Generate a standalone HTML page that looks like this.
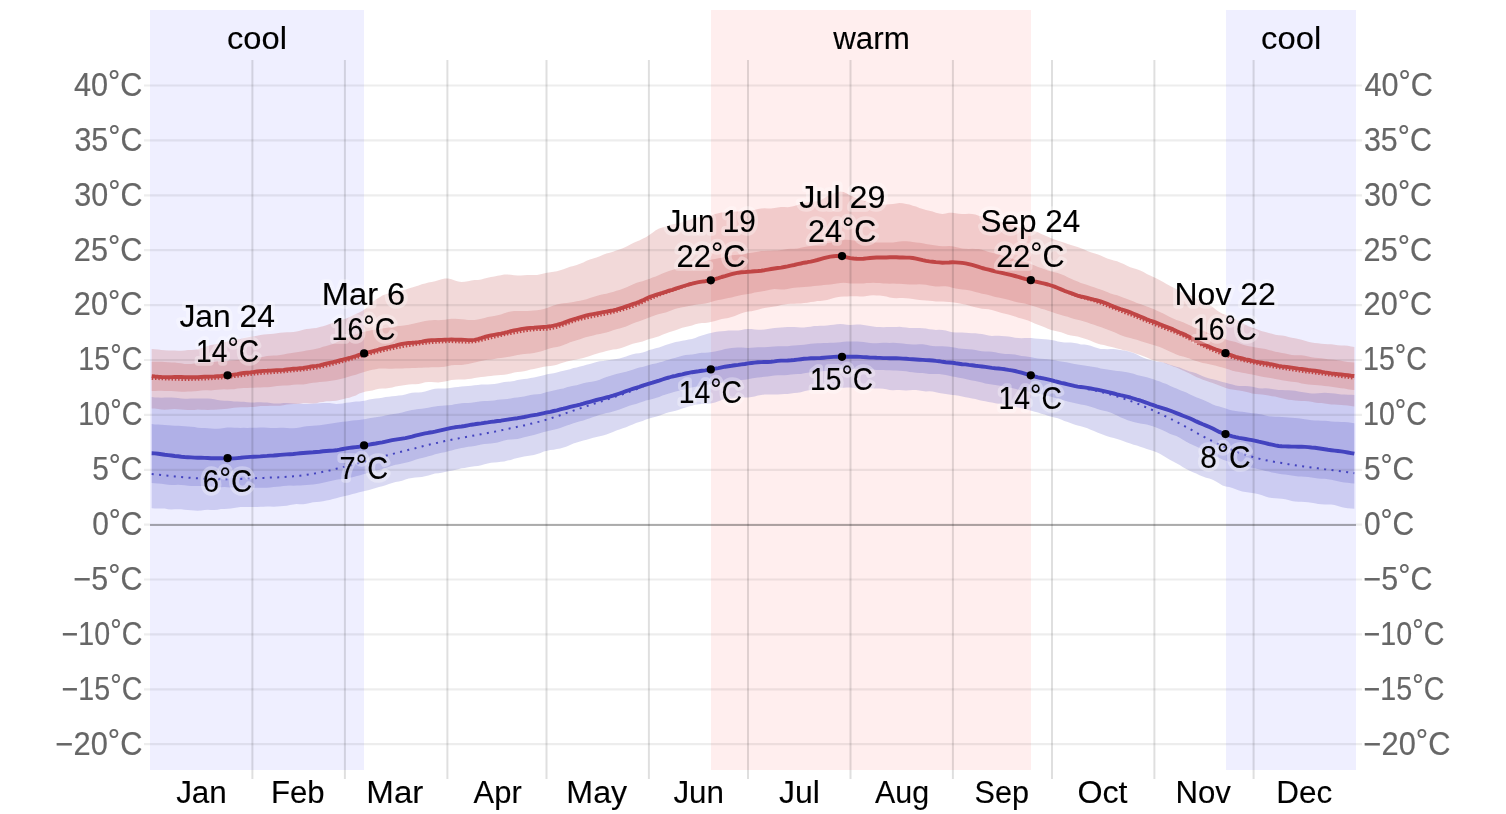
<!DOCTYPE html>
<html lang="en"><head><meta charset="utf-8"><title>Average High and Low Temperature</title>
<style>
html,body{margin:0;padding:0;background:#fff;}
body{width:1506px;height:814px;overflow:hidden;position:relative;font-family:"Liberation Sans",sans-serif;}
svg{will-change:transform;}
svg text{font-family:"Liberation Sans",sans-serif;}
.ax{fill:#666;stroke:#666;stroke-width:0.2px;}
.mo{fill:#000;stroke:#000;stroke-width:0.12px;}
.an{fill:#000;stroke:#000;stroke-width:0.12px;}
.halo{fill:#fff;fill-opacity:0.3;stroke:#fff;stroke-opacity:0.32;stroke-width:7.5px;stroke-linejoin:round;}
</style></head><body>
<svg width="1506" height="814" viewBox="0 0 1506 814" style="position:absolute;left:0;top:0">
<rect x="150" y="10" width="214" height="760" fill="#efefff"/>
<rect x="1226" y="10" width="130" height="760" fill="#efefff"/>
<rect x="711" y="10" width="320" height="760" fill="#ffeeee"/>
<path d="M151.7,349 L154.9,349.3 L158.2,349.5 L161.5,350 L164.8,350.2 L168.1,350.4 L171.4,350.4 L174.7,350.6 L178,350.8 L181.3,350.7 L184.6,350.4 L187.9,350.1 L191.2,350 L194.5,349.7 L197.8,349.2 L201.1,348.3 L204.4,347.2 L207.7,346 L211,345 L214.3,344.4 L217.6,343.8 L220.8,343.2 L224.1,342.2 L227.4,341.6 L230.7,340.8 L234,340.1 L237.3,339.3 L240.6,338.9 L243.9,338.1 L247.2,337.6 L250.5,336.8 L253.8,336.4 L257.1,335.7 L260.4,335 L263.7,334.5 L267,334.2 L270.3,334.1 L273.6,333.7 L276.9,333.2 L280.2,332.7 L283.5,332.5 L286.7,332.3 L290,332.2 L293.3,331.9 L296.6,331.5 L299.9,330.8 L303.2,329.8 L306.5,329 L309.8,328.7 L313.1,328.3 L316.4,328 L319.7,327.1 L323,326.3 L326.3,325.2 L329.6,324 L332.9,322.8 L336.2,321.7 L339.5,320.6 L342.8,319.5 L346.1,318.4 L349.4,317.2 L352.6,315.5 L355.9,313.9 L359.2,312.4 L362.5,310.7 L365.8,308.4 L369.1,305.1 L372.4,302.2 L375.7,299.6 L379,297.7 L382.3,295.6 L385.6,294.2 L388.9,293.3 L392.2,292.7 L395.5,292.2 L398.8,291.3 L402.1,290.5 L405.4,289.6 L408.7,288.6 L412,287.6 L415.3,286.5 L418.6,285.6 L421.8,284.3 L425.1,283.4 L428.4,282.6 L431.7,281.9 L435,281.2 L438.3,280.3 L441.6,279.3 L444.9,278.5 L448.2,278.5 L451.5,279.3 L454.8,280.5 L458.1,281.4 L461.4,281.9 L464.7,281.8 L468,281.2 L471.3,280.5 L474.6,280.1 L477.9,279.9 L481.2,279.4 L484.5,278.5 L487.7,277.8 L491,276.9 L494.3,276.4 L497.6,275.8 L500.9,275.2 L504.2,274.6 L507.5,274.5 L510.8,274.8 L514.1,275.2 L517.4,275.4 L520.7,275.4 L524,275.3 L527.3,275 L530.6,275 L533.9,275.1 L537.2,274.9 L540.5,274.3 L543.8,273.4 L547.1,272.8 L550.4,272.3 L553.6,271.8 L556.9,271.2 L560.2,270.3 L563.5,269.2 L566.8,267.9 L570.1,266.8 L573.4,266 L576.7,265.1 L580,263.8 L583.3,262.4 L586.6,260.7 L589.9,259.5 L593.2,258.6 L596.5,257.6 L599.8,256.2 L603.1,254.7 L606.4,253.5 L609.7,252.7 L613,251.7 L616.3,250.6 L619.5,249.4 L622.8,248.3 L626.1,246.8 L629.4,245 L632.7,243.3 L636,241.7 L639.3,240.4 L642.6,238.8 L645.9,237.2 L649.2,235.1 L652.5,232.8 L655.8,230.3 L659.1,228.5 L662.4,227.4 L665.7,226.4 L669,225.3 L672.3,224.3 L675.6,223.7 L678.9,223 L682.2,222.3 L685.5,221.2 L688.7,220 L692,218.8 L695.3,217.8 L698.6,217 L701.9,216.4 L705.2,216.2 L708.5,215.9 L711.8,215.2 L715.1,214.1 L718.4,213.2 L721.7,212.5 L725,212.3 L728.3,212 L731.6,211.9 L734.9,211.5 L738.2,211.4 L741.5,211 L744.8,210.9 L748.1,210.7 L751.4,210.5 L754.6,210 L757.9,209.1 L761.2,208.4 L764.5,208.3 L767.8,208.6 L771.1,208.4 L774.4,208 L777.7,207.4 L781,207.1 L784.3,207 L787.6,207.2 L790.9,206.8 L794.2,206 L797.5,204.9 L800.8,204 L804.1,203.3 L807.4,202.5 L810.7,201.8 L814,201.4 L817.3,201.2 L820.5,200.3 L823.8,198.5 L827.1,196.3 L830.4,194.6 L833.7,193.4 L837,192.3 L840.3,191.4 L843.6,191.9 L846.9,193.5 L850.2,195.5 L853.5,196.9 L856.8,198.2 L860.1,199.4 L863.4,200.6 L866.7,201.8 L870,203.1 L873.3,203.9 L876.6,204.6 L879.9,204.8 L883.2,204.8 L886.5,204.4 L889.7,204.3 L893,204 L896.3,203.5 L899.6,203.1 L902.9,203.2 L906.2,203.9 L909.5,204.6 L912.8,205.7 L916.1,206.6 L919.4,208 L922.7,209.1 L926,210 L929.3,210.7 L932.6,211.5 L935.9,212.7 L939.2,213.6 L942.5,214 L945.8,213.4 L949.1,212.8 L952.4,212.7 L955.6,213.2 L958.9,213.8 L962.2,214.1 L965.5,214 L968.8,213.8 L972.1,213.9 L975.4,214.6 L978.7,215.7 L982,216.5 L985.3,217.3 L988.6,218.3 L991.9,219.5 L995.2,220.6 L998.5,221.5 L1001.8,222.1 L1005.1,222.9 L1008.4,223.8 L1011.7,224.8 L1015,225.8 L1018.3,226.8 L1021.5,228 L1024.8,228.9 L1028.1,229.6 L1031.4,230.1 L1034.7,231.2 L1038,232.3 L1041.3,233.9 L1044.6,235.3 L1047.9,236.8 L1051.2,238.2 L1054.5,239.6 L1057.8,240.8 L1061.1,241.8 L1064.4,242.8 L1067.7,243.9 L1071,245 L1074.3,246.1 L1077.6,247.1 L1080.9,248.2 L1084.2,249.6 L1087.4,251.1 L1090.7,252.3 L1094,253.3 L1097.3,254.2 L1100.6,255.6 L1103.9,257.1 L1107.2,258.5 L1110.5,259.4 L1113.8,260.4 L1117.1,261.3 L1120.4,262.8 L1123.7,264.1 L1127,265.8 L1130.3,267.2 L1133.6,268.3 L1136.9,269.2 L1140.2,270.5 L1143.5,272 L1146.8,273.9 L1150.1,275.5 L1153.4,277.1 L1156.6,278.5 L1159.9,280.2 L1163.2,282 L1166.5,284 L1169.8,285.8 L1173.1,287.4 L1176.4,289.1 L1179.7,291 L1183,292.7 L1186.3,294 L1189.6,295.1 L1192.9,296.5 L1196.2,298.3 L1199.5,300.2 L1202.8,301.8 L1206.1,303.3 L1209.4,304.9 L1212.7,307.1 L1216,309.7 L1219.3,311.9 L1222.5,313.7 L1225.8,314.7 L1229.1,316.1 L1232.4,317.5 L1235.7,319.4 L1239,321 L1242.3,322.9 L1245.6,324.8 L1248.9,326.5 L1252.2,327.6 L1255.5,328.8 L1258.8,330.1 L1262.1,331.3 L1265.4,332.1 L1268.7,332.9 L1272,333.8 L1275.3,334.7 L1278.6,335.2 L1281.9,335.5 L1285.2,336 L1288.4,336.9 L1291.7,337.7 L1295,338.2 L1298.3,338.9 L1301.6,339.8 L1304.9,340.8 L1308.2,341.8 L1311.5,342.4 L1314.8,343 L1318.1,343.3 L1321.4,343.8 L1324.7,344 L1328,344.2 L1331.3,344.2 L1334.6,344.8 L1337.9,345.2 L1341.2,345.6 L1344.5,345.5 L1347.8,345.8 L1351.1,346.4 L1354.3,347.1 L1354.3,406.5 L1351.1,406.1 L1347.8,405.5 L1344.5,405.2 L1341.2,405 L1337.9,404.8 L1334.6,404.6 L1331.3,404.4 L1328,404 L1324.7,403.4 L1321.4,403.1 L1318.1,402.9 L1314.8,402.4 L1311.5,401.7 L1308.2,401.3 L1304.9,401.1 L1301.6,401 L1298.3,400.7 L1295,400.4 L1291.7,400 L1288.4,399.7 L1285.2,399.1 L1281.9,398.3 L1278.6,397.4 L1275.3,396.6 L1272,396.2 L1268.7,395.5 L1265.4,395.1 L1262.1,394.5 L1258.8,394.3 L1255.5,394 L1252.2,393.4 L1248.9,392.5 L1245.6,391.7 L1242.3,391.1 L1239,390.6 L1235.7,390.1 L1232.4,389.6 L1229.1,388.9 L1225.8,387.9 L1222.5,386.7 L1219.3,385.4 L1216,384.2 L1212.7,383 L1209.4,382 L1206.1,380.8 L1202.8,379.7 L1199.5,378.3 L1196.2,376.9 L1192.9,375.3 L1189.6,373.6 L1186.3,372.1 L1183,370.4 L1179.7,369.1 L1176.4,367.5 L1173.1,366.5 L1169.8,365 L1166.5,363.9 L1163.2,362.5 L1159.9,361.8 L1156.6,361 L1153.4,360.2 L1150.1,358.9 L1146.8,357.4 L1143.5,356.2 L1140.2,355 L1136.9,353.9 L1133.6,352.7 L1130.3,351.8 L1127,350.8 L1123.7,350.3 L1120.4,349.3 L1117.1,348.6 L1113.8,347.5 L1110.5,346.7 L1107.2,345.9 L1103.9,345.1 L1100.6,344.5 L1097.3,343.4 L1094,342.3 L1090.7,340.8 L1087.4,339.5 L1084.2,338.4 L1080.9,337.4 L1077.6,336.6 L1074.3,335.9 L1071,335.5 L1067.7,334.7 L1064.4,333.6 L1061.1,332.3 L1057.8,331.4 L1054.5,330.8 L1051.2,330 L1047.9,328.8 L1044.6,327.3 L1041.3,325.9 L1038,324.7 L1034.7,323.5 L1031.4,322 L1028.1,320.6 L1024.8,319.4 L1021.5,318.6 L1018.3,317.7 L1015,316.5 L1011.7,315.6 L1008.4,314.6 L1005.1,313.8 L1001.8,313 L998.5,312.1 L995.2,311 L991.9,309.9 L988.6,309.2 L985.3,309 L982,308.8 L978.7,308.1 L975.4,307.3 L972.1,306.4 L968.8,305.6 L965.5,304.6 L962.2,303.9 L958.9,303.2 L955.6,302.8 L952.4,302.3 L949.1,302 L945.8,301.7 L942.5,301.6 L939.2,301.6 L935.9,301.4 L932.6,301.1 L929.3,300.7 L926,300.5 L922.7,300.3 L919.4,300 L916.1,299.5 L912.8,299 L909.5,298.6 L906.2,298.3 L902.9,298.1 L899.6,298.1 L896.3,298.2 L893,298 L889.7,297.4 L886.5,296.5 L883.2,295.9 L879.9,295.5 L876.6,295.5 L873.3,295.3 L870,295.5 L866.7,295.9 L863.4,296.4 L860.1,296.5 L856.8,296.2 L853.5,296.2 L850.2,296.2 L846.9,296.5 L843.6,296.5 L840.3,296.8 L837,297.3 L833.7,298.1 L830.4,299 L827.1,300 L823.8,300.5 L820.5,300.9 L817.3,301.1 L814,301.8 L810.7,302.1 L807.4,302.8 L804.1,303 L800.8,303.5 L797.5,303.5 L794.2,303.8 L790.9,303.7 L787.6,304 L784.3,304.5 L781,305.1 L777.7,305.9 L774.4,306.4 L771.1,307 L767.8,307.4 L764.5,307.9 L761.2,308.8 L757.9,309.7 L754.6,310.6 L751.4,311.2 L748.1,311.5 L744.8,312.2 L741.5,313.2 L738.2,314.6 L734.9,315.9 L731.6,317.1 L728.3,317.9 L725,318.5 L721.7,319.1 L718.4,319.9 L715.1,320.9 L711.8,321.8 L708.5,322.4 L705.2,322.9 L701.9,323.1 L698.6,323.6 L695.3,324.3 L692,325.4 L688.7,326.2 L685.5,327 L682.2,327.8 L678.9,328.9 L675.6,330.2 L672.3,331.2 L669,332.3 L665.7,333.5 L662.4,334.8 L659.1,336.2 L655.8,337.2 L652.5,338.2 L649.2,339.1 L645.9,340.3 L642.6,341.4 L639.3,342.3 L636,343.1 L632.7,343.8 L629.4,344.9 L626.1,346.2 L622.8,347.6 L619.5,348.5 L616.3,349.2 L613,349.6 L609.7,350.3 L606.4,351 L603.1,351.9 L599.8,352.8 L596.5,353.7 L593.2,354.7 L589.9,355.9 L586.6,356.9 L583.3,358.1 L580,358.7 L576.7,359.6 L573.4,360.1 L570.1,360.8 L566.8,361.5 L563.5,362.5 L560.2,363.6 L556.9,364.7 L553.6,365.5 L550.4,365.9 L547.1,366.3 L543.8,366.8 L540.5,367.6 L537.2,368.3 L533.9,369.1 L530.6,369.6 L527.3,370.5 L524,371.3 L520.7,371.8 L517.4,372.1 L514.1,372.5 L510.8,373.4 L507.5,374.2 L504.2,374.7 L500.9,375 L497.6,375.2 L494.3,375.5 L491,375.9 L487.7,376.3 L484.5,376.7 L481.2,377 L477.9,377.5 L474.6,378 L471.3,378.7 L468,379 L464.7,379.4 L461.4,379.5 L458.1,379.6 L454.8,379.8 L451.5,380.1 L448.2,380.7 L444.9,381.4 L441.6,382 L438.3,382.4 L435,382.3 L431.7,382.1 L428.4,381.9 L425.1,382.3 L421.8,383.2 L418.6,383.9 L415.3,384.2 L412,384.3 L408.7,384.6 L405.4,385 L402.1,385.4 L398.8,386 L395.5,386.6 L392.2,387.5 L388.9,388.1 L385.6,388.4 L382.3,388.4 L379,388.8 L375.7,389.6 L372.4,390.5 L369.1,391 L365.8,391.4 L362.5,392.4 L359.2,393.6 L355.9,395.4 L352.6,396.5 L349.4,397.7 L346.1,398.3 L342.8,399.3 L339.5,400 L336.2,400.8 L332.9,400.9 L329.6,401.3 L326.3,401.3 L323,401.9 L319.7,402.3 L316.4,403.2 L313.1,403.5 L309.8,403.4 L306.5,403.2 L303.2,403.3 L299.9,403.8 L296.6,404.1 L293.3,404.1 L290,404.2 L286.7,404.5 L283.5,405.2 L280.2,405.7 L276.9,405.7 L273.6,405.8 L270.3,405.7 L267,405.9 L263.7,405.9 L260.4,406.1 L257.1,406.5 L253.8,406.9 L250.5,407.1 L247.2,407.2 L243.9,407.3 L240.6,407.3 L237.3,407.5 L234,407.8 L230.7,408.3 L227.4,408.7 L224.1,409 L220.8,409.3 L217.6,409.5 L214.3,409.7 L211,409.7 L207.7,409.9 L204.4,409.7 L201.1,409.7 L197.8,409.6 L194.5,409.9 L191.2,410 L187.9,410 L184.6,409.8 L181.3,409.6 L178,409.2 L174.7,409 L171.4,409.2 L168.1,409.6 L164.8,409.7 L161.5,409.5 L158.2,409 L154.9,408.6 L151.7,408.6Z" fill="#c04040" fill-opacity="0.2"/>
<path d="M151.7,361.8 L154.9,361.8 L158.2,361.8 L161.5,361.8 L164.8,362.1 L168.1,362.3 L171.4,362.5 L174.7,362.6 L178,362.9 L181.3,363.3 L184.6,363.9 L187.9,364 L191.2,363.9 L194.5,363.4 L197.8,363.1 L201.1,362.9 L204.4,362.8 L207.7,362.6 L211,362.3 L214.3,361.9 L217.6,361.5 L220.8,361.2 L224.1,361.1 L227.4,360.9 L230.7,360.6 L234,360.3 L237.3,360 L240.6,359.6 L243.9,358.8 L247.2,358.2 L250.5,357.8 L253.8,357.7 L257.1,357.5 L260.4,357.3 L263.7,356.7 L267,356 L270.3,355.7 L273.6,355.6 L276.9,355.4 L280.2,354.9 L283.5,354.4 L286.7,353.7 L290,353.2 L293.3,352.8 L296.6,352.3 L299.9,351.8 L303.2,351.2 L306.5,350.5 L309.8,349.9 L313.1,349.4 L316.4,348.8 L319.7,347.9 L323,346.8 L326.3,346 L329.6,345.1 L332.9,343.9 L336.2,342.4 L339.5,341 L342.8,339.6 L346.1,338.2 L349.4,336.7 L352.6,335.5 L355.9,334.3 L359.2,333.3 L362.5,332.3 L365.8,331.5 L369.1,330.7 L372.4,330 L375.7,329.4 L379,329.1 L382.3,328.5 L385.6,328.1 L388.9,327.5 L392.2,327.2 L395.5,326.6 L398.8,326.1 L402.1,325.7 L405.4,325.3 L408.7,324.8 L412,324 L415.3,323.3 L418.6,322.5 L421.8,321.8 L425.1,321.1 L428.4,320.6 L431.7,320.3 L435,320.1 L438.3,320.2 L441.6,320 L444.9,319.7 L448.2,319.2 L451.5,318.7 L454.8,318.7 L458.1,318.9 L461.4,319.3 L464.7,319.6 L468,319.9 L471.3,320.1 L474.6,320 L477.9,319.6 L481.2,318.7 L484.5,317.9 L487.7,317.1 L491,316.5 L494.3,315.9 L497.6,315.2 L500.9,314.4 L504.2,313.3 L507.5,312.2 L510.8,311.4 L514.1,310.9 L517.4,310.9 L520.7,311 L524,311 L527.3,311 L530.6,310.8 L533.9,310.6 L537.2,310.2 L540.5,309.7 L543.8,309 L547.1,307.9 L550.4,306.8 L553.6,305.6 L556.9,304.6 L560.2,303.8 L563.5,303.3 L566.8,302.9 L570.1,302.6 L573.4,302.1 L576.7,301.3 L580,300.8 L583.3,299.9 L586.6,299.3 L589.9,298.1 L593.2,297.1 L596.5,295.9 L599.8,295.1 L603.1,294.3 L606.4,293.7 L609.7,292.8 L613,291.9 L616.3,290.8 L619.5,289.9 L622.8,288.8 L626.1,287.6 L629.4,286.1 L632.7,284.5 L636,283.1 L639.3,282.1 L642.6,281.2 L645.9,280 L649.2,278.9 L652.5,277.6 L655.8,276.5 L659.1,275 L662.4,273.6 L665.7,272.2 L669,271.1 L672.3,270 L675.6,269 L678.9,268.2 L682.2,267.6 L685.5,267 L688.7,266.2 L692,265.5 L695.3,264.5 L698.6,263.5 L701.9,262.3 L705.2,261.3 L708.5,260.4 L711.8,259.6 L715.1,259 L718.4,258.3 L721.7,257.7 L725,256.8 L728.3,256 L731.6,255.2 L734.9,254.9 L738.2,254.7 L741.5,254.3 L744.8,253.7 L748.1,253.2 L751.4,252.8 L754.6,252.3 L757.9,251.7 L761.2,251.1 L764.5,250.9 L767.8,250.8 L771.1,250.8 L774.4,250.6 L777.7,250.4 L781,250 L784.3,249.4 L787.6,249 L790.9,248.8 L794.2,248.7 L797.5,248.4 L800.8,247.8 L804.1,247.1 L807.4,246.4 L810.7,245.9 L814,245.2 L817.3,244.7 L820.5,244.1 L823.8,243.7 L827.1,243.1 L830.4,242.7 L833.7,242 L837,241.1 L840.3,240.2 L843.6,239.8 L846.9,239.7 L850.2,240.1 L853.5,240.5 L856.8,240.8 L860.1,241 L863.4,241.4 L866.7,241.8 L870,242.3 L873.3,242.5 L876.6,242.6 L879.9,242.5 L883.2,242.5 L886.5,242.6 L889.7,242.6 L893,242.4 L896.3,242 L899.6,241.6 L902.9,241.3 L906.2,241.3 L909.5,241.6 L912.8,242.1 L916.1,242.5 L919.4,242.8 L922.7,243.2 L926,243.9 L929.3,244.5 L932.6,245 L935.9,245.4 L939.2,246 L942.5,246.3 L945.8,246.3 L949.1,246.1 L952.4,246.3 L955.6,246.9 L958.9,247.8 L962.2,248.4 L965.5,248.7 L968.8,248.9 L972.1,248.8 L975.4,249 L978.7,249.1 L982,249.8 L985.3,250.7 L988.6,251.9 L991.9,252.8 L995.2,253.4 L998.5,254.3 L1001.8,255.2 L1005.1,256.5 L1008.4,257.6 L1011.7,258.6 L1015,259.4 L1018.3,260.2 L1021.5,261.1 L1024.8,262 L1028.1,262.9 L1031.4,264.2 L1034.7,265.5 L1038,266.9 L1041.3,268.1 L1044.6,269.2 L1047.9,270.5 L1051.2,271.4 L1054.5,272.3 L1057.8,273 L1061.1,274.3 L1064.4,275.6 L1067.7,277.3 L1071,278.7 L1074.3,280.3 L1077.6,281.6 L1080.9,282.9 L1084.2,284 L1087.4,285.1 L1090.7,286.2 L1094,287.3 L1097.3,288.4 L1100.6,289.4 L1103.9,290.7 L1107.2,292.1 L1110.5,293.4 L1113.8,294.4 L1117.1,295.3 L1120.4,296.6 L1123.7,297.8 L1127,299.1 L1130.3,300.2 L1133.6,301.6 L1136.9,302.9 L1140.2,304.1 L1143.5,305.3 L1146.8,306.5 L1150.1,307.8 L1153.4,309.1 L1156.6,310.5 L1159.9,312 L1163.2,313.6 L1166.5,315.3 L1169.8,317.1 L1173.1,318.6 L1176.4,319.9 L1179.7,321 L1183,322.3 L1186.3,323.8 L1189.6,325.3 L1192.9,326.8 L1196.2,328 L1199.5,329.3 L1202.8,330.6 L1206.1,332.1 L1209.4,333.5 L1212.7,334.8 L1216,335.8 L1219.3,336.9 L1222.5,338.2 L1225.8,339.5 L1229.1,340.6 L1232.4,341.3 L1235.7,342.1 L1239,343.2 L1242.3,344.6 L1245.6,345.6 L1248.9,346.3 L1252.2,346.7 L1255.5,347.4 L1258.8,348.1 L1262.1,348.6 L1265.4,349.1 L1268.7,349.9 L1272,350.8 L1275.3,351.7 L1278.6,352.2 L1281.9,352.9 L1285.2,353.4 L1288.4,354.3 L1291.7,355 L1295,355.3 L1298.3,355.3 L1301.6,355.3 L1304.9,355.7 L1308.2,356.4 L1311.5,357.3 L1314.8,357.7 L1318.1,358 L1321.4,358.3 L1324.7,358.8 L1328,359.3 L1331.3,359.6 L1334.6,359.8 L1337.9,360.3 L1341.2,360.8 L1344.5,361.4 L1347.8,361.9 L1351.1,362.3 L1354.3,362.5 L1354.3,390.1 L1351.1,389.7 L1347.8,389.2 L1344.5,388.6 L1341.2,388.3 L1337.9,387.7 L1334.6,387.3 L1331.3,386.7 L1328,386.3 L1324.7,385.9 L1321.4,385.5 L1318.1,385.3 L1314.8,385 L1311.5,384.7 L1308.2,384.4 L1304.9,384 L1301.6,383.4 L1298.3,382.6 L1295,382 L1291.7,381.7 L1288.4,381.3 L1285.2,380.7 L1281.9,380.2 L1278.6,379.5 L1275.3,379 L1272,378.3 L1268.7,377.7 L1265.4,377.2 L1262.1,376.7 L1258.8,375.9 L1255.5,375.3 L1252.2,374.6 L1248.9,374 L1245.6,373.3 L1242.3,372.7 L1239,372.1 L1235.7,371.4 L1232.4,370.7 L1229.1,369.6 L1225.8,368.6 L1222.5,367.6 L1219.3,366.7 L1216,365.8 L1212.7,365 L1209.4,364.3 L1206.1,363.6 L1202.8,362.9 L1199.5,362 L1196.2,361 L1192.9,359.9 L1189.6,358.5 L1186.3,357.4 L1183,356.4 L1179.7,355.8 L1176.4,354.6 L1173.1,353.1 L1169.8,351.6 L1166.5,350.1 L1163.2,348.6 L1159.9,347.1 L1156.6,345.9 L1153.4,345 L1150.1,344 L1146.8,343.1 L1143.5,341.9 L1140.2,340.9 L1136.9,339.8 L1133.6,338.9 L1130.3,338.1 L1127,337.3 L1123.7,336.3 L1120.4,335 L1117.1,333.4 L1113.8,332 L1110.5,330.7 L1107.2,329.5 L1103.9,328.2 L1100.6,327 L1097.3,325.9 L1094,324.7 L1090.7,323.7 L1087.4,322.5 L1084.2,321.6 L1080.9,320.6 L1077.6,319.8 L1074.3,318.9 L1071,317.9 L1067.7,316.8 L1064.4,315.9 L1061.1,315.1 L1057.8,314 L1054.5,313 L1051.2,311.7 L1047.9,310.8 L1044.6,309.6 L1041.3,308.7 L1038,307.4 L1034.7,306.5 L1031.4,305.4 L1028.1,304.4 L1024.8,303.6 L1021.5,303 L1018.3,302.5 L1015,301.7 L1011.7,300.7 L1008.4,299.7 L1005.1,298.9 L1001.8,298.3 L998.5,297.6 L995.2,297 L991.9,295.9 L988.6,295.1 L985.3,294.2 L982,293.7 L978.7,292.8 L975.4,292 L972.1,291 L968.8,290.3 L965.5,289.8 L962.2,289.4 L958.9,289 L955.6,288.5 L952.4,287.7 L949.1,286.8 L945.8,286.3 L942.5,286.3 L939.2,286.4 L935.9,286.4 L932.6,286.1 L929.3,285.5 L926,284.8 L922.7,284.5 L919.4,284.3 L916.1,284.4 L912.8,284.4 L909.5,284.4 L906.2,284.3 L902.9,284.1 L899.6,283.8 L896.3,283.7 L893,283.6 L889.7,283.8 L886.5,283.6 L883.2,283.4 L879.9,283.1 L876.6,282.9 L873.3,282.7 L870,282.9 L866.7,283.1 L863.4,283.4 L860.1,283.4 L856.8,283.5 L853.5,283.5 L850.2,283.4 L846.9,283 L843.6,282.7 L840.3,282.9 L837,283.5 L833.7,284.1 L830.4,284.5 L827.1,284.8 L823.8,285.1 L820.5,285.4 L817.3,285.7 L814,286 L810.7,286.5 L807.4,286.8 L804.1,287 L800.8,287.2 L797.5,287.4 L794.2,287.7 L790.9,288.3 L787.6,289 L784.3,289.4 L781,289.4 L777.7,289.2 L774.4,289.1 L771.1,289.6 L767.8,290.2 L764.5,291 L761.2,291.4 L757.9,291.9 L754.6,292.5 L751.4,293.4 L748.1,294 L744.8,294.6 L741.5,295 L738.2,295.8 L734.9,296.6 L731.6,297.4 L728.3,298 L725,298.8 L721.7,299.4 L718.4,300 L715.1,300.7 L711.8,301.7 L708.5,302.8 L705.2,303.6 L701.9,304 L698.6,304.3 L695.3,304.7 L692,305.4 L688.7,306.1 L685.5,306.8 L682.2,307.3 L678.9,307.9 L675.6,308.8 L672.3,310 L669,311.3 L665.7,312.4 L662.4,313.2 L659.1,314 L655.8,315 L652.5,316.2 L649.2,317.5 L645.9,318.8 L642.6,320 L639.3,321.2 L636,322.3 L632.7,323.6 L629.4,324.9 L626.1,326.4 L622.8,327.5 L619.5,328.4 L616.3,329.2 L613,330.3 L609.7,331.5 L606.4,332.5 L603.1,333.2 L599.8,333.9 L596.5,334.6 L593.2,335.5 L589.9,336.2 L586.6,337.1 L583.3,338 L580,339.3 L576.7,340.2 L573.4,341.3 L570.1,342.3 L566.8,343.7 L563.5,345 L560.2,346.3 L556.9,347.1 L553.6,347.6 L550.4,348.3 L547.1,349.2 L543.8,350.4 L540.5,351.4 L537.2,352.3 L533.9,353 L530.6,353.4 L527.3,353.7 L524,354 L520.7,354.5 L517.4,355.1 L514.1,355.7 L510.8,356.4 L507.5,357.1 L504.2,357.6 L500.9,357.9 L497.6,358.3 L494.3,359 L491,359.4 L487.7,359.8 L484.5,360.2 L481.2,361.1 L477.9,361.8 L474.6,362.6 L471.3,363.3 L468,364 L464.7,364.6 L461.4,364.9 L458.1,364.9 L454.8,364.9 L451.5,365.2 L448.2,366 L444.9,366.7 L441.6,367.1 L438.3,367.3 L435,367.2 L431.7,367.3 L428.4,367.5 L425.1,367.6 L421.8,367.8 L418.6,367.8 L415.3,368 L412,368 L408.7,368.2 L405.4,368.3 L402.1,368.4 L398.8,368.4 L395.5,368.6 L392.2,368.7 L388.9,368.8 L385.6,368.5 L382.3,368.5 L379,368.6 L375.7,369.2 L372.4,369.8 L369.1,370.6 L365.8,371.4 L362.5,372.5 L359.2,373.6 L355.9,374.7 L352.6,375.6 L349.4,376.6 L346.1,377.6 L342.8,378.5 L339.5,379.3 L336.2,379.9 L332.9,380.5 L329.6,381 L326.3,381.4 L323,381.8 L319.7,382 L316.4,382.4 L313.1,382.7 L309.8,383.3 L306.5,383.9 L303.2,384.4 L299.9,384.6 L296.6,384.6 L293.3,384.8 L290,385.2 L286.7,385.4 L283.5,385.5 L280.2,385.7 L276.9,386.1 L273.6,386.6 L270.3,386.9 L267,387.3 L263.7,387.3 L260.4,387.4 L257.1,387.4 L253.8,387.8 L250.5,387.8 L247.2,388 L243.9,387.9 L240.6,388.3 L237.3,388.6 L234,389.2 L230.7,389.3 L227.4,389.4 L224.1,389.3 L220.8,389.4 L217.6,389.7 L214.3,390.1 L211,390.4 L207.7,390.2 L204.4,390.3 L201.1,390.5 L197.8,390.9 L194.5,391.2 L191.2,391.4 L187.9,391.6 L184.6,391.7 L181.3,391.7 L178,391.4 L174.7,391.2 L171.4,391.1 L168.1,391.1 L164.8,391 L161.5,390.8 L158.2,390.7 L154.9,390.9 L151.7,391Z" fill="#c04040" fill-opacity="0.2"/>
<path d="M151.7,397.1 L154.9,397.5 L158.2,397.5 L161.5,397.7 L164.8,397.5 L168.1,397.6 L171.4,397.5 L174.7,397.8 L178,398 L181.3,398.5 L184.6,398.8 L187.9,398.7 L191.2,398.6 L194.5,398.5 L197.8,398.6 L201.1,398.5 L204.4,398.5 L207.7,398.5 L211,398.8 L214.3,399.3 L217.6,400 L220.8,400.5 L224.1,400.7 L227.4,400.8 L230.7,401 L234,401.4 L237.3,401.6 L240.6,401.7 L243.9,401.8 L247.2,402.3 L250.5,402.5 L253.8,402.6 L257.1,402.3 L260.4,402.3 L263.7,402.4 L267,402.6 L270.3,403.1 L273.6,403.5 L276.9,403.6 L280.2,403.4 L283.5,402.9 L286.7,403 L290,403.2 L293.3,403.6 L296.6,403.7 L299.9,403.7 L303.2,403.9 L306.5,404 L309.8,404 L313.1,403.7 L316.4,403.4 L319.7,403.3 L323,403.1 L326.3,402.9 L329.6,403 L332.9,403.4 L336.2,403.9 L339.5,403.8 L342.8,403.4 L346.1,402.8 L349.4,402.4 L352.6,402 L355.9,401.6 L359.2,401.4 L362.5,400.9 L365.8,400.4 L369.1,399.5 L372.4,399 L375.7,398.5 L379,398.3 L382.3,397.7 L385.6,397.1 L388.9,396.7 L392.2,396.2 L395.5,396 L398.8,395.6 L402.1,395.3 L405.4,394.5 L408.7,393.6 L412,392.8 L415.3,392.4 L418.6,392.5 L421.8,392.2 L425.1,391.6 L428.4,390.5 L431.7,389.6 L435,388.8 L438.3,388.4 L441.6,388.4 L444.9,388.5 L448.2,388.2 L451.5,387.8 L454.8,387.3 L458.1,387 L461.4,386.6 L464.7,386.3 L468,385.9 L471.3,385.7 L474.6,385.3 L477.9,385 L481.2,384.6 L484.5,384.6 L487.7,384.4 L491,384.2 L494.3,384 L497.6,383.5 L500.9,382.7 L504.2,382 L507.5,381.7 L510.8,381.4 L514.1,380.9 L517.4,380 L520.7,379.6 L524,379 L527.3,378.7 L530.6,377.9 L533.9,377.4 L537.2,376.7 L540.5,376.1 L543.8,375.2 L547.1,374.3 L550.4,373.7 L553.6,373.2 L556.9,372.5 L560.2,371.6 L563.5,370.8 L566.8,369.9 L570.1,369.2 L573.4,368.1 L576.7,367.4 L580,366.4 L583.3,365.7 L586.6,364.7 L589.9,363.9 L593.2,363 L596.5,362.1 L599.8,361.3 L603.1,360.9 L606.4,360.5 L609.7,360.1 L613,359.6 L616.3,359 L619.5,358.5 L622.8,357.6 L626.1,356.6 L629.4,355.2 L632.7,354.3 L636,353.5 L639.3,353.2 L642.6,352.4 L645.9,351.4 L649.2,350.1 L652.5,349.3 L655.8,348.3 L659.1,347.4 L662.4,346.2 L665.7,345.1 L669,343.9 L672.3,343 L675.6,342.1 L678.9,341.4 L682.2,340.7 L685.5,340.3 L688.7,339.6 L692,338.9 L695.3,337.9 L698.6,336.6 L701.9,335.5 L705.2,334.5 L708.5,333.6 L711.8,332.7 L715.1,332 L718.4,331.5 L721.7,331.3 L725,330.9 L728.3,330.6 L731.6,330.4 L734.9,330.5 L738.2,330.4 L741.5,330 L744.8,329.3 L748.1,328.9 L751.4,329.1 L754.6,329.4 L757.9,329.7 L761.2,329.7 L764.5,329.5 L767.8,328.9 L771.1,328.4 L774.4,328 L777.7,327.8 L781,327.5 L784.3,327.2 L787.6,327 L790.9,326.9 L794.2,326.9 L797.5,327.2 L800.8,327.4 L804.1,327.5 L807.4,327.1 L810.7,326.8 L814,326.1 L817.3,326 L820.5,325.7 L823.8,325.7 L827.1,325.4 L830.4,325.1 L833.7,324.7 L837,324.2 L840.3,324 L843.6,324.2 L846.9,324.8 L850.2,324.9 L853.5,324.8 L856.8,324.5 L860.1,324.6 L863.4,324.9 L866.7,325.4 L870,326 L873.3,326.5 L876.6,326.9 L879.9,327 L883.2,327.2 L886.5,327.1 L889.7,327.1 L893,326.9 L896.3,327 L899.6,326.8 L902.9,327.3 L906.2,327.5 L909.5,328 L912.8,328 L916.1,328 L919.4,328 L922.7,328.3 L926,328.6 L929.3,329.3 L932.6,329.5 L935.9,329.9 L939.2,329.7 L942.5,329.9 L945.8,330.5 L949.1,331.5 L952.4,332.2 L955.6,332.4 L958.9,332.4 L962.2,332.5 L965.5,332.8 L968.8,333 L972.1,333.2 L975.4,333.3 L978.7,333.7 L982,334.1 L985.3,334.8 L988.6,335.5 L991.9,335.9 L995.2,335.8 L998.5,335.8 L1001.8,335.9 L1005.1,336.2 L1008.4,336.5 L1011.7,337 L1015,337.7 L1018.3,338.1 L1021.5,338.2 L1024.8,337.9 L1028.1,337.9 L1031.4,338 L1034.7,338.4 L1038,338.8 L1041.3,339.1 L1044.6,339.2 L1047.9,339.4 L1051.2,340 L1054.5,340.6 L1057.8,341.6 L1061.1,342.1 L1064.4,342.6 L1067.7,342.5 L1071,342.5 L1074.3,342.9 L1077.6,343.6 L1080.9,344.4 L1084.2,344.6 L1087.4,345 L1090.7,345.7 L1094,347.1 L1097.3,348.1 L1100.6,348.9 L1103.9,349.1 L1107.2,349.2 L1110.5,349 L1113.8,349.1 L1117.1,349.4 L1120.4,349.9 L1123.7,350.5 L1127,351.1 L1130.3,351.9 L1133.6,353 L1136.9,354.4 L1140.2,356.2 L1143.5,357.8 L1146.8,359.1 L1150.1,360.1 L1153.4,360.8 L1156.6,361.4 L1159.9,361.8 L1163.2,362.4 L1166.5,363.5 L1169.8,364.7 L1173.1,365.7 L1176.4,366.7 L1179.7,367.6 L1183,368.9 L1186.3,370.2 L1189.6,371.4 L1192.9,372.3 L1196.2,373.3 L1199.5,374.7 L1202.8,376.2 L1206.1,377.6 L1209.4,378.6 L1212.7,379.3 L1216,380.1 L1219.3,381 L1222.5,381.9 L1225.8,382.8 L1229.1,383.7 L1232.4,384.6 L1235.7,385.5 L1239,386 L1242.3,386.1 L1245.6,386.1 L1248.9,386.3 L1252.2,386.8 L1255.5,387.6 L1258.8,388.3 L1262.1,388.4 L1265.4,388.3 L1268.7,388.5 L1272,389.1 L1275.3,389.6 L1278.6,390 L1281.9,390.1 L1285.2,390.2 L1288.4,390.2 L1291.7,390.5 L1295,390.8 L1298.3,391.5 L1301.6,392 L1304.9,392.4 L1308.2,392.9 L1311.5,393.4 L1314.8,393.5 L1318.1,393.3 L1321.4,392.9 L1324.7,392.7 L1328,393 L1331.3,393.2 L1334.6,393.6 L1337.9,393.9 L1341.2,394.5 L1344.5,394.6 L1347.8,394.8 L1351.1,394.8 L1354.3,394.9 L1354.3,508.7 L1351.1,508.4 L1347.8,508.2 L1344.5,507.8 L1341.2,507.1 L1337.9,506 L1334.6,505.1 L1331.3,504.6 L1328,504.5 L1324.7,504.5 L1321.4,504.3 L1318.1,504 L1314.8,503.3 L1311.5,502.8 L1308.2,502.3 L1304.9,502 L1301.6,501.8 L1298.3,501.7 L1295,501.5 L1291.7,500.9 L1288.4,500 L1285.2,499.3 L1281.9,498.7 L1278.6,498.5 L1275.3,498.3 L1272,498.1 L1268.7,497.4 L1265.4,496.6 L1262.1,495.2 L1258.8,494.3 L1255.5,493.4 L1252.2,493.1 L1248.9,492.6 L1245.6,492.1 L1242.3,491.4 L1239,490.5 L1235.7,489.3 L1232.4,488 L1229.1,487.1 L1225.8,486.4 L1222.5,485.4 L1219.3,483.6 L1216,481.6 L1212.7,479.8 L1209.4,478.6 L1206.1,477.7 L1202.8,476.5 L1199.5,475.2 L1196.2,473.6 L1192.9,472.2 L1189.6,470.8 L1186.3,469.1 L1183,467.2 L1179.7,465 L1176.4,463.2 L1173.1,461.4 L1169.8,459.7 L1166.5,457.8 L1163.2,455.7 L1159.9,453.7 L1156.6,452.2 L1153.4,451 L1150.1,450 L1146.8,449 L1143.5,447.8 L1140.2,446.7 L1136.9,445.5 L1133.6,444.7 L1130.3,443.6 L1127,442.6 L1123.7,441.2 L1120.4,440 L1117.1,438.9 L1113.8,438 L1110.5,437.3 L1107.2,436.2 L1103.9,435.1 L1100.6,433.7 L1097.3,432.4 L1094,431.1 L1090.7,429.7 L1087.4,428.3 L1084.2,427.2 L1080.9,426.3 L1077.6,425.5 L1074.3,424.4 L1071,423.3 L1067.7,422.1 L1064.4,420.9 L1061.1,419.4 L1057.8,418.3 L1054.5,417.6 L1051.2,416.8 L1047.9,415.8 L1044.6,414.6 L1041.3,413.7 L1038,412.6 L1034.7,411.8 L1031.4,410.7 L1028.1,409.9 L1024.8,409 L1021.5,408.2 L1018.3,407.4 L1015,406.7 L1011.7,406 L1008.4,405.3 L1005.1,404.7 L1001.8,404.3 L998.5,403.8 L995.2,403.2 L991.9,402.5 L988.6,401.9 L985.3,401.3 L982,400.7 L978.7,400 L975.4,399.1 L972.1,398.4 L968.8,397.8 L965.5,397.3 L962.2,396.5 L958.9,395.7 L955.6,395.2 L952.4,394.9 L949.1,394.5 L945.8,394.1 L942.5,393.6 L939.2,393 L935.9,392.2 L932.6,391.6 L929.3,391.3 L926,391.4 L922.7,391.1 L919.4,390.6 L916.1,390.1 L912.8,390.1 L909.5,390.3 L906.2,390.4 L902.9,390.2 L899.6,390.1 L896.3,390.1 L893,390.2 L889.7,389.9 L886.5,389.3 L883.2,388.7 L879.9,388.5 L876.6,388.6 L873.3,388.5 L870,388.3 L866.7,388.2 L863.4,388.5 L860.1,388.5 L856.8,388.3 L853.5,387.7 L850.2,387.5 L846.9,387.5 L843.6,387.7 L840.3,387.8 L837,387.6 L833.7,387.8 L830.4,388.2 L827.1,389.1 L823.8,389.6 L820.5,389.8 L817.3,389.8 L814,389.8 L810.7,389.9 L807.4,390.4 L804.1,391.3 L800.8,392.2 L797.5,392.8 L794.2,393.1 L790.9,393.6 L787.6,393.9 L784.3,394.1 L781,394.3 L777.7,394.4 L774.4,394.6 L771.1,394.5 L767.8,394.5 L764.5,394.5 L761.2,395.1 L757.9,395.6 L754.6,396.4 L751.4,396.9 L748.1,397.4 L744.8,397.4 L741.5,397.3 L738.2,397.4 L734.9,397.9 L731.6,398.4 L728.3,398.5 L725,399 L721.7,399.9 L718.4,401.2 L715.1,402.4 L711.8,403.2 L708.5,403.7 L705.2,403.9 L701.9,403.9 L698.6,404.2 L695.3,404.8 L692,405.7 L688.7,406.5 L685.5,407.5 L682.2,408.6 L678.9,409.8 L675.6,410.7 L672.3,411.4 L669,412.2 L665.7,413.3 L662.4,414.6 L659.1,415.7 L655.8,416.8 L652.5,417.5 L649.2,418.6 L645.9,419.6 L642.6,420.9 L639.3,422 L636,423.1 L632.7,424.4 L629.4,425.8 L626.1,427.2 L622.8,428.3 L619.5,429.4 L616.3,430.5 L613,431.9 L609.7,433.2 L606.4,434.5 L603.1,435.4 L599.8,436.2 L596.5,436.9 L593.2,437.8 L589.9,438.8 L586.6,439.8 L583.3,440.6 L580,441.5 L576.7,442.4 L573.4,443.5 L570.1,444.9 L566.8,446.4 L563.5,447.6 L560.2,448.5 L556.9,449 L553.6,449.8 L550.4,450.1 L547.1,450.8 L543.8,451.6 L540.5,453 L537.2,454.1 L533.9,455.1 L530.6,455.5 L527.3,455.9 L524,456.5 L520.7,457.2 L517.4,458.1 L514.1,458.8 L510.8,459.9 L507.5,460.6 L504.2,461.4 L500.9,461.8 L497.6,462.3 L494.3,462.6 L491,462.8 L487.7,463.4 L484.5,464.2 L481.2,465.2 L477.9,465.9 L474.6,466.3 L471.3,466.8 L468,467.2 L464.7,467.9 L461.4,468.3 L458.1,469.2 L454.8,469.9 L451.5,470.7 L448.2,471.3 L444.9,472 L441.6,472.7 L438.3,473.3 L435,473.6 L431.7,474.5 L428.4,475.4 L425.1,476.3 L421.8,477 L418.6,477.3 L415.3,477.6 L412,477.9 L408.7,478.6 L405.4,479.5 L402.1,480.7 L398.8,481.4 L395.5,482.1 L392.2,482.9 L388.9,484 L385.6,485.2 L382.3,486.2 L379,486.9 L375.7,488 L372.4,489 L369.1,490.1 L365.8,490.8 L362.5,491.5 L359.2,492.3 L355.9,493.2 L352.6,494 L349.4,494.9 L346.1,495.7 L342.8,496.6 L339.5,497.3 L336.2,498.2 L332.9,499 L329.6,499.9 L326.3,500.6 L323,501.3 L319.7,501.8 L316.4,502 L313.1,502.3 L309.8,503 L306.5,503.8 L303.2,504.3 L299.9,504.2 L296.6,504.1 L293.3,504.5 L290,505.1 L286.7,505.7 L283.5,506 L280.2,506.3 L276.9,506.5 L273.6,506.7 L270.3,506.6 L267,506.6 L263.7,506.7 L260.4,506.8 L257.1,506.9 L253.8,506.9 L250.5,507 L247.2,507 L243.9,507 L240.6,507.1 L237.3,507.4 L234,507.9 L230.7,508.5 L227.4,508.8 L224.1,508.9 L220.8,509 L217.6,509.7 L214.3,509.9 L211,509.9 L207.7,509.7 L204.4,510 L201.1,510.4 L197.8,510.7 L194.5,510.5 L191.2,510.2 L187.9,509.9 L184.6,509.7 L181.3,509.3 L178,509.2 L174.7,509.3 L171.4,509.5 L168.1,509.2 L164.8,508.6 L161.5,508.4 L158.2,508.4 L154.9,508.5 L151.7,508.2Z" fill="#4040c0" fill-opacity="0.2"/>
<path d="M151.7,424.1 L154.9,424.4 L158.2,424.5 L161.5,424.8 L164.8,424.9 L168.1,425.3 L171.4,425.5 L174.7,425.7 L178,425.8 L181.3,426 L184.6,426.3 L187.9,426.4 L191.2,426.7 L194.5,427.1 L197.8,427.7 L201.1,428 L204.4,428 L207.7,428.3 L211,428.6 L214.3,428.8 L217.6,428.7 L220.8,428.4 L224.1,427.9 L227.4,427.6 L230.7,427.5 L234,427.8 L237.3,427.8 L240.6,428.1 L243.9,427.8 L247.2,427.9 L250.5,427.7 L253.8,427.8 L257.1,427.7 L260.4,427.5 L263.7,427.4 L267,427.7 L270.3,428.1 L273.6,428.1 L276.9,427.9 L280.2,427.7 L283.5,427.7 L286.7,428 L290,428.2 L293.3,428.3 L296.6,428 L299.9,427.4 L303.2,426.7 L306.5,426.2 L309.8,425.9 L313.1,425.7 L316.4,425.6 L319.7,425.3 L323,424.8 L326.3,424.3 L329.6,423.8 L332.9,423.3 L336.2,422.8 L339.5,422.2 L342.8,421.8 L346.1,421.5 L349.4,421.1 L352.6,420.6 L355.9,420.2 L359.2,419.9 L362.5,419.5 L365.8,418.9 L369.1,418.2 L372.4,417.7 L375.7,417.3 L379,416.8 L382.3,416.2 L385.6,415.4 L388.9,414.8 L392.2,414.2 L395.5,413.8 L398.8,413.2 L402.1,412.4 L405.4,411.4 L408.7,410.7 L412,410.1 L415.3,409.6 L418.6,409 L421.8,408.7 L425.1,408.2 L428.4,407.7 L431.7,407 L435,406.4 L438.3,406.1 L441.6,405.7 L444.9,405.5 L448.2,405.2 L451.5,404.9 L454.8,404.3 L458.1,403.7 L461.4,403.2 L464.7,403.1 L468,403 L471.3,402.8 L474.6,402.3 L477.9,401.8 L481.2,401.2 L484.5,401 L487.7,401 L491,400.8 L494.3,400.4 L497.6,399.8 L500.9,399.4 L504.2,399.2 L507.5,398.9 L510.8,398.4 L514.1,397.8 L517.4,397.4 L520.7,396.9 L524,396.5 L527.3,395.8 L530.6,395.1 L533.9,394.6 L537.2,394.3 L540.5,393.9 L543.8,393.1 L547.1,392.1 L550.4,391.2 L553.6,390.4 L556.9,389.8 L560.2,389.1 L563.5,388.4 L566.8,387.3 L570.1,386.6 L573.4,385.8 L576.7,385.3 L580,384.2 L583.3,383.3 L586.6,382.5 L589.9,382.1 L593.2,381.6 L596.5,380.8 L599.8,379.7 L603.1,378.3 L606.4,377 L609.7,375.9 L613,374.9 L616.3,374 L619.5,373.2 L622.8,372.4 L626.1,371.7 L629.4,370.8 L632.7,369.7 L636,368.6 L639.3,367.6 L642.6,367 L645.9,366 L649.2,365.1 L652.5,364.1 L655.8,363.4 L659.1,362.6 L662.4,361.7 L665.7,360.6 L669,359.7 L672.3,358.6 L675.6,357.7 L678.9,356.7 L682.2,355.7 L685.5,355 L688.7,354.8 L692,354.5 L695.3,354 L698.6,353.3 L701.9,352.8 L705.2,352.7 L708.5,352.4 L711.8,352.1 L715.1,351.4 L718.4,350.8 L721.7,350 L725,349.1 L728.3,348.6 L731.6,348 L734.9,347.7 L738.2,347.4 L741.5,347.5 L744.8,347.8 L748.1,348 L751.4,347.8 L754.6,347.4 L757.9,347.2 L761.2,347.2 L764.5,347.3 L767.8,347.1 L771.1,346.8 L774.4,346.4 L777.7,346.3 L781,346.3 L784.3,346.3 L787.6,346.2 L790.9,345.8 L794.2,345.5 L797.5,345.2 L800.8,345 L804.1,344.7 L807.4,344.3 L810.7,343.8 L814,343.5 L817.3,343.2 L820.5,343.2 L823.8,343 L827.1,342.9 L830.4,342.7 L833.7,342.7 L837,342.5 L840.3,342.3 L843.6,341.8 L846.9,341.6 L850.2,341.4 L853.5,341.5 L856.8,341.6 L860.1,341.8 L863.4,342.1 L866.7,342.5 L870,343 L873.3,343.3 L876.6,343.3 L879.9,342.9 L883.2,342.7 L886.5,342.7 L889.7,342.9 L893,342.8 L896.3,343 L899.6,343.2 L902.9,343.6 L906.2,343.9 L909.5,344.2 L912.8,344.5 L916.1,344.4 L919.4,344.3 L922.7,344.3 L926,344.8 L929.3,345.5 L932.6,346.1 L935.9,346.2 L939.2,346.3 L942.5,346.3 L945.8,346.5 L949.1,346.8 L952.4,347.3 L955.6,347.8 L958.9,348.4 L962.2,348.7 L965.5,349 L968.8,349.2 L972.1,349.6 L975.4,350 L978.7,350.7 L982,351.3 L985.3,351.6 L988.6,351.6 L991.9,351.8 L995.2,352.2 L998.5,353 L1001.8,353.5 L1005.1,353.9 L1008.4,353.9 L1011.7,354.2 L1015,354.6 L1018.3,355.3 L1021.5,355.9 L1024.8,356.3 L1028.1,356.7 L1031.4,357.2 L1034.7,357.9 L1038,358.4 L1041.3,358.7 L1044.6,359 L1047.9,359.2 L1051.2,359.8 L1054.5,360.3 L1057.8,360.9 L1061.1,361.4 L1064.4,361.9 L1067.7,362.6 L1071,363.3 L1074.3,364 L1077.6,364.5 L1080.9,365 L1084.2,365.4 L1087.4,366 L1090.7,366.4 L1094,367.1 L1097.3,367.6 L1100.6,368.4 L1103.9,368.9 L1107.2,369.6 L1110.5,370.1 L1113.8,370.5 L1117.1,370.9 L1120.4,371.3 L1123.7,371.8 L1127,372.2 L1130.3,373 L1133.6,373.7 L1136.9,374.9 L1140.2,375.7 L1143.5,376.6 L1146.8,377.3 L1150.1,378.3 L1153.4,379.3 L1156.6,380.5 L1159.9,381.6 L1163.2,382.9 L1166.5,384.1 L1169.8,385.7 L1173.1,387.2 L1176.4,388.6 L1179.7,389.9 L1183,391.2 L1186.3,392.6 L1189.6,394.2 L1192.9,395.7 L1196.2,397.3 L1199.5,398.6 L1202.8,399.8 L1206.1,401.2 L1209.4,402.8 L1212.7,404.5 L1216,405.7 L1219.3,406.6 L1222.5,407.5 L1225.8,408.5 L1229.1,409.7 L1232.4,410.6 L1235.7,411.1 L1239,411.4 L1242.3,411.8 L1245.6,412.3 L1248.9,412.7 L1252.2,413.2 L1255.5,413.5 L1258.8,414 L1262.1,414.6 L1265.4,415.5 L1268.7,416.2 L1272,416.5 L1275.3,416.7 L1278.6,416.8 L1281.9,417.1 L1285.2,417.3 L1288.4,417.4 L1291.7,417.7 L1295,417.9 L1298.3,418.3 L1301.6,418.7 L1304.9,419.3 L1308.2,419.8 L1311.5,420.2 L1314.8,420.5 L1318.1,420.6 L1321.4,420.8 L1324.7,420.8 L1328,421.1 L1331.3,421.5 L1334.6,421.8 L1337.9,421.8 L1341.2,421.9 L1344.5,422 L1347.8,422.3 L1351.1,422.7 L1354.3,423.3 L1354.3,483.6 L1351.1,483.3 L1347.8,482.8 L1344.5,482.4 L1341.2,481.9 L1337.9,481.3 L1334.6,480.5 L1331.3,479.7 L1328,479.2 L1324.7,478.8 L1321.4,478.8 L1318.1,478.4 L1314.8,478 L1311.5,477.4 L1308.2,477 L1304.9,476.7 L1301.6,476.6 L1298.3,476.4 L1295,476.1 L1291.7,475.5 L1288.4,475 L1285.2,474.6 L1281.9,474.2 L1278.6,473.8 L1275.3,473 L1272,472.4 L1268.7,471.6 L1265.4,471 L1262.1,470.1 L1258.8,469.3 L1255.5,468.4 L1252.2,467.7 L1248.9,467.1 L1245.6,466.4 L1242.3,465.5 L1239,464.3 L1235.7,463.5 L1232.4,462.7 L1229.1,461.8 L1225.8,460.7 L1222.5,459.4 L1219.3,458 L1216,456.5 L1212.7,455 L1209.4,453.4 L1206.1,451.6 L1202.8,449.7 L1199.5,447.9 L1196.2,446.4 L1192.9,445 L1189.6,443.5 L1186.3,441.7 L1183,439.7 L1179.7,437.7 L1176.4,436.1 L1173.1,434.9 L1169.8,433.7 L1166.5,432.1 L1163.2,430.5 L1159.9,429 L1156.6,427.7 L1153.4,426.5 L1150.1,425.4 L1146.8,424.6 L1143.5,424.1 L1140.2,423.5 L1136.9,422.8 L1133.6,421.9 L1130.3,420.9 L1127,419.9 L1123.7,418.6 L1120.4,417.2 L1117.1,415.5 L1113.8,413.9 L1110.5,412.6 L1107.2,411.6 L1103.9,410.8 L1100.6,409.9 L1097.3,408.9 L1094,407.8 L1090.7,406.7 L1087.4,405.7 L1084.2,405.1 L1080.9,404.4 L1077.6,403.7 L1074.3,402.9 L1071,402.3 L1067.7,401.5 L1064.4,400.6 L1061.1,399.6 L1057.8,398.6 L1054.5,397.7 L1051.2,396.7 L1047.9,395.8 L1044.6,394.9 L1041.3,394.2 L1038,393.6 L1034.7,393.1 L1031.4,392.4 L1028.1,391.6 L1024.8,390.9 L1021.5,390.4 L1018.3,389.7 L1015,388.8 L1011.7,388 L1008.4,387.3 L1005.1,386.8 L1001.8,386.1 L998.5,385.5 L995.2,384.9 L991.9,384.6 L988.6,384 L985.3,383.4 L982,382.5 L978.7,381.7 L975.4,381 L972.1,380.5 L968.8,379.7 L965.5,379 L962.2,378.2 L958.9,377.7 L955.6,377.1 L952.4,376.6 L949.1,375.8 L945.8,375.1 L942.5,374.5 L939.2,374.1 L935.9,374.1 L932.6,374.1 L929.3,373.9 L926,373.5 L922.7,373.1 L919.4,372.9 L916.1,372.7 L912.8,372.3 L909.5,371.9 L906.2,371.2 L902.9,370.9 L899.6,370.7 L896.3,370.5 L893,370.4 L889.7,370.2 L886.5,370.2 L883.2,370.1 L879.9,370.1 L876.6,369.9 L873.3,369.6 L870,369.1 L866.7,368.8 L863.4,368.6 L860.1,368.6 L856.8,368.8 L853.5,369.1 L850.2,369.5 L846.9,369.4 L843.6,369.2 L840.3,369.1 L837,369.5 L833.7,370.1 L830.4,370.6 L827.1,370.9 L823.8,371.1 L820.5,371.5 L817.3,371.8 L814,372.1 L810.7,372.2 L807.4,372.7 L804.1,373.3 L800.8,373.9 L797.5,374.1 L794.2,374.3 L790.9,374.6 L787.6,375 L784.3,375.2 L781,375.2 L777.7,375.2 L774.4,375.5 L771.1,375.9 L767.8,376.5 L764.5,376.8 L761.2,377.2 L757.9,377.5 L754.6,378 L751.4,378.5 L748.1,379.2 L744.8,379.7 L741.5,380.1 L738.2,380.6 L734.9,381.2 L731.6,381.9 L728.3,382.3 L725,382.6 L721.7,382.8 L718.4,383 L715.1,383.3 L711.8,383.9 L708.5,384.6 L705.2,385.3 L701.9,385.9 L698.6,386.4 L695.3,386.8 L692,387.4 L688.7,388.1 L685.5,389.1 L682.2,389.9 L678.9,390.8 L675.6,391.5 L672.3,392.5 L669,393.4 L665.7,394.5 L662.4,395.5 L659.1,396.9 L655.8,398 L652.5,399 L649.2,399.8 L645.9,400.6 L642.6,401.8 L639.3,402.8 L636,404 L632.7,404.8 L629.4,405.8 L626.1,406.9 L622.8,408.2 L619.5,409.5 L616.3,410.6 L613,411.6 L609.7,412.5 L606.4,413.1 L603.1,413.9 L599.8,414.8 L596.5,416 L593.2,417.1 L589.9,418.3 L586.6,419.3 L583.3,420.4 L580,421.3 L576.7,422.2 L573.4,423.3 L570.1,424.4 L566.8,425.6 L563.5,426.8 L560.2,427.9 L556.9,428.9 L553.6,429.7 L550.4,430.5 L547.1,431.3 L543.8,432.1 L540.5,433.1 L537.2,434 L533.9,435 L530.6,435.7 L527.3,436.4 L524,437.3 L520.7,438.2 L517.4,438.9 L514.1,439.3 L510.8,439.5 L507.5,439.8 L504.2,440.5 L500.9,441.6 L497.6,442.4 L494.3,443.1 L491,443.5 L487.7,443.8 L484.5,444 L481.2,444.6 L477.9,445.2 L474.6,445.9 L471.3,446.4 L468,446.8 L464.7,447.4 L461.4,448 L458.1,448.7 L454.8,449.4 L451.5,450.4 L448.2,451.3 L444.9,452.2 L441.6,452.8 L438.3,453.6 L435,454.3 L431.7,455.4 L428.4,456.3 L425.1,457.3 L421.8,458.1 L418.6,458.8 L415.3,459.7 L412,460.9 L408.7,461.9 L405.4,462.8 L402.1,463.4 L398.8,464.2 L395.5,464.8 L392.2,465.7 L388.9,466.7 L385.6,468 L382.3,469 L379,469.9 L375.7,470.5 L372.4,471.5 L369.1,472.5 L365.8,473.6 L362.5,474.4 L359.2,475.5 L355.9,476.3 L352.6,477.3 L349.4,477.8 L346.1,478.5 L342.8,478.9 L339.5,479.3 L336.2,479.7 L332.9,480.4 L329.6,481.2 L326.3,482 L323,482.7 L319.7,483.5 L316.4,484.1 L313.1,484.6 L309.8,484.7 L306.5,485 L303.2,485.2 L299.9,485.6 L296.6,485.6 L293.3,485.7 L290,485.6 L286.7,485.8 L283.5,486.1 L280.2,486.5 L276.9,486.8 L273.6,487.1 L270.3,487.4 L267,487.8 L263.7,487.8 L260.4,487.8 L257.1,487.7 L253.8,487.7 L250.5,487.8 L247.2,487.9 L243.9,487.7 L240.6,487.8 L237.3,487.7 L234,487.7 L230.7,487.5 L227.4,487.2 L224.1,487.1 L220.8,487.2 L217.6,487.4 L214.3,487.1 L211,486.8 L207.7,486.4 L204.4,486.1 L201.1,485.9 L197.8,485.9 L194.5,486 L191.2,485.9 L187.9,485.8 L184.6,485.3 L181.3,485 L178,484.8 L174.7,485 L171.4,485 L168.1,484.7 L164.8,484.2 L161.5,483.7 L158.2,483.5 L154.9,483.3 L151.7,483Z" fill="#4040c0" fill-opacity="0.2"/>
<line x1="252.4" y1="60" x2="252.4" y2="779" stroke="#000" stroke-opacity="0.125" stroke-width="2"/>
<line x1="344.9" y1="60" x2="344.9" y2="779" stroke="#000" stroke-opacity="0.125" stroke-width="2"/>
<line x1="447.4" y1="60" x2="447.4" y2="779" stroke="#000" stroke-opacity="0.125" stroke-width="2"/>
<line x1="546.5" y1="60" x2="546.5" y2="779" stroke="#000" stroke-opacity="0.125" stroke-width="2"/>
<line x1="648.9" y1="60" x2="648.9" y2="779" stroke="#000" stroke-opacity="0.125" stroke-width="2"/>
<line x1="748" y1="60" x2="748" y2="779" stroke="#000" stroke-opacity="0.125" stroke-width="2"/>
<line x1="850.5" y1="60" x2="850.5" y2="779" stroke="#000" stroke-opacity="0.125" stroke-width="2"/>
<line x1="952.9" y1="60" x2="952.9" y2="779" stroke="#000" stroke-opacity="0.125" stroke-width="2"/>
<line x1="1052" y1="60" x2="1052" y2="779" stroke="#000" stroke-opacity="0.125" stroke-width="2"/>
<line x1="1154.4" y1="60" x2="1154.4" y2="779" stroke="#000" stroke-opacity="0.125" stroke-width="2"/>
<line x1="1253.6" y1="60" x2="1253.6" y2="779" stroke="#000" stroke-opacity="0.125" stroke-width="2"/>
<line x1="144" y1="744.2" x2="1362" y2="744.2" stroke="#000" stroke-opacity="0.07" stroke-width="2.2"/>
<line x1="144" y1="689.3" x2="1362" y2="689.3" stroke="#000" stroke-opacity="0.07" stroke-width="2.2"/>
<line x1="144" y1="634.4" x2="1362" y2="634.4" stroke="#000" stroke-opacity="0.07" stroke-width="2.2"/>
<line x1="144" y1="579.5" x2="1362" y2="579.5" stroke="#000" stroke-opacity="0.07" stroke-width="2.2"/>
<line x1="144" y1="524.6" x2="1362" y2="524.6" stroke="#000" stroke-opacity="0.07" stroke-width="2.2"/>
<line x1="150" y1="524.9" x2="1356" y2="524.9" stroke="#000" stroke-opacity="0.28" stroke-width="2"/>
<line x1="144" y1="469.8" x2="1362" y2="469.8" stroke="#000" stroke-opacity="0.07" stroke-width="2.2"/>
<line x1="144" y1="414.9" x2="1362" y2="414.9" stroke="#000" stroke-opacity="0.07" stroke-width="2.2"/>
<line x1="144" y1="360" x2="1362" y2="360" stroke="#000" stroke-opacity="0.07" stroke-width="2.2"/>
<line x1="144" y1="305.1" x2="1362" y2="305.1" stroke="#000" stroke-opacity="0.07" stroke-width="2.2"/>
<line x1="144" y1="250.2" x2="1362" y2="250.2" stroke="#000" stroke-opacity="0.07" stroke-width="2.2"/>
<line x1="144" y1="195.3" x2="1362" y2="195.3" stroke="#000" stroke-opacity="0.07" stroke-width="2.2"/>
<line x1="144" y1="140.4" x2="1362" y2="140.4" stroke="#000" stroke-opacity="0.07" stroke-width="2.2"/>
<line x1="144" y1="85.5" x2="1362" y2="85.5" stroke="#000" stroke-opacity="0.07" stroke-width="2.2"/>
<path d="M151.7,378.8 L154.9,378.9 L158.2,379 L161.5,379.1 L164.8,379.3 L168.1,379.4 L171.4,379.5 L174.7,379.6 L178,379.7 L181.3,379.8 L184.6,379.8 L187.9,379.8 L191.2,379.8 L194.5,379.7 L197.8,379.6 L201.1,379.5 L204.4,379.4 L207.7,379.2 L211,379.1 L214.3,378.8 L217.6,378.6 L220.8,378.4 L224.1,378.1 L227.4,377.8 L230.7,377.4 L234,377 L237.3,376.6 L240.6,376.1 L243.9,375.7 L247.2,375.2 L250.5,374.8 L253.8,374.5 L257.1,374.2 L260.4,373.9 L263.7,373.6 L267,373.4 L270.3,373.2 L273.6,372.9 L276.9,372.7 L280.2,372.4 L283.5,372.2 L286.7,371.9 L290,371.5 L293.3,371.2 L296.6,370.9 L299.9,370.6 L303.2,370.2 L306.5,369.8 L309.8,369.4 L313.1,368.9 L316.4,368.4 L319.7,367.7 L323,367 L326.3,366.3 L329.6,365.5 L332.9,364.6 L336.2,363.7 L339.5,362.9 L342.8,362 L346.1,361.1 L349.4,360.1 L352.6,359.2 L355.9,358.2 L359.2,357.3 L362.5,356.3 L365.8,355.4 L369.1,354.6 L372.4,353.7 L375.7,352.9 L379,352 L382.3,351.3 L385.6,350.5 L388.9,349.7 L392.2,349 L395.5,348.3 L398.8,347.7 L402.1,347.1 L405.4,346.5 L408.7,345.9 L412,345.4 L415.3,344.9 L418.6,344.4 L421.8,344 L425.1,343.6 L428.4,343.3 L431.7,343 L435,342.7 L438.3,342.5 L441.6,342.3 L444.9,342.1 L448.2,342 L451.5,342 L454.8,342.1 L458.1,342.2 L461.4,342.4 L464.7,342.5 L468,342.6 L471.3,342.4 L474.6,342.1 L477.9,341.5 L481.2,340.7 L484.5,339.9 L487.7,339.1 L491,338.3 L494.3,337.5 L497.6,336.7 L500.9,335.9 L504.2,335.1 L507.5,334.4 L510.8,333.8 L514.1,333.2 L517.4,332.6 L520.7,332 L524,331.4 L527.3,331 L530.6,330.5 L533.9,330.2 L537.2,329.9 L540.5,329.8 L543.8,329.7 L547.1,329.6 L550.4,329.1 L553.6,328.4 L556.9,327.6 L560.2,326.5 L563.5,325.4 L566.8,324.2 L570.1,323 L573.4,321.8 L576.7,320.8 L580,319.8 L583.3,319 L586.6,318.3 L589.9,317.6 L593.2,316.9 L596.5,316.2 L599.8,315.6 L603.1,314.9 L606.4,314.3 L609.7,313.5 L613,312.8 L616.3,311.9 L619.5,311 L622.8,310.1 L626.1,309.1 L629.4,308.1 L632.7,307 L636,305.8 L639.3,304.4 L642.6,302.8 L645.9,301.2 L649.2,299.7 L652.5,298.3 L655.8,296.9 L659.1,295.6 L662.4,294.4 L665.7,293.1 L669,292 L672.3,290.8 L675.6,289.7 L678.9,288.5 L682.2,287.4 L685.5,286.3 L688.7,285.1 L692,284.1 L695.3,283.1 L698.6,282.2 L701.9,281.6 L705.2,281.1 L708.5,280.7 L711.8,280.1 L715.1,279.3 L718.4,278.4 L721.7,277.3 L725,276.2 L728.3,275.2 L731.6,274.2 L734.9,273.4 L738.2,272.8 L741.5,272.4 L744.8,272.2 L748.1,272 L751.4,271.7 L754.6,271.3 L757.9,270.9 L761.2,270.5 L764.5,270 L767.8,269.5 L771.1,269 L774.4,268.5 L777.7,268 L781,267.4 L784.3,266.8 L787.6,266.1 L790.9,265.5 L794.2,264.8 L797.5,264.1 L800.8,263.4 L804.1,262.7 L807.4,262 L810.7,261.4 L814,260.7 L817.3,259.8 L820.5,258.9 L823.8,258 L827.1,257.2 L830.4,256.5 L833.7,256 L837,255.8 L840.3,255.9 L843.6,256.4 L846.9,257.2 L850.2,257.9 L853.5,258.3 L856.8,258.5 L860.1,258.6 L863.4,258.6 L866.7,258.4 L870,258.2 L873.3,257.9 L876.6,257.7 L879.9,257.6 L883.2,257.5 L886.5,257.4 L889.7,257.4 L893,257.4 L896.3,257.4 L899.6,257.5 L902.9,257.6 L906.2,257.8 L909.5,258 L912.8,258.4 L916.1,258.9 L919.4,259.5 L922.7,260.1 L926,260.8 L929.3,261.4 L932.6,261.9 L935.9,262.3 L939.2,262.6 L942.5,262.7 L945.8,262.6 L949.1,262.6 L952.4,262.6 L955.6,262.7 L958.9,262.9 L962.2,263.1 L965.5,263.5 L968.8,264.2 L972.1,264.9 L975.4,265.8 L978.7,266.7 L982,267.7 L985.3,268.6 L988.6,269.5 L991.9,270.3 L995.2,271.1 L998.5,272 L1001.8,272.8 L1005.1,273.6 L1008.4,274.5 L1011.7,275.3 L1015,276.1 L1018.3,277 L1021.5,277.8 L1024.8,278.7 L1028.1,279.5 L1031.4,280.4 L1034.7,281.2 L1038,282 L1041.3,282.7 L1044.6,283.6 L1047.9,284.4 L1051.2,285.4 L1054.5,286.6 L1057.8,287.9 L1061.1,289.4 L1064.4,291 L1067.7,292.6 L1071,294 L1074.3,295.4 L1077.6,296.5 L1080.9,297.5 L1084.2,298.4 L1087.4,299.3 L1090.7,300.2 L1094,301.2 L1097.3,302.4 L1100.6,303.6 L1103.9,304.9 L1107.2,306.2 L1110.5,307.5 L1113.8,308.8 L1117.1,310 L1120.4,311.3 L1123.7,312.6 L1127,313.9 L1130.3,315.2 L1133.6,316.4 L1136.9,317.7 L1140.2,319.1 L1143.5,320.4 L1146.8,321.7 L1150.1,323.1 L1153.4,324.4 L1156.6,325.7 L1159.9,327 L1163.2,328.2 L1166.5,329.5 L1169.8,330.8 L1173.1,332 L1176.4,333.4 L1179.7,334.8 L1183,336.2 L1186.3,337.8 L1189.6,339.4 L1192.9,341.1 L1196.2,342.9 L1199.5,344.6 L1202.8,346.2 L1206.1,347.8 L1209.4,349.2 L1212.7,350.7 L1216,352.1 L1219.3,353.4 L1222.5,354.7 L1225.8,355.8 L1229.1,357 L1232.4,358 L1235.7,358.9 L1239,359.8 L1242.3,360.7 L1245.6,361.5 L1248.9,362.2 L1252.2,363 L1255.5,363.8 L1258.8,364.5 L1262.1,365.2 L1265.4,365.8 L1268.7,366.4 L1272,367 L1275.3,367.6 L1278.6,368.1 L1281.9,368.7 L1285.2,369.2 L1288.4,369.7 L1291.7,370.2 L1295,370.7 L1298.3,371.2 L1301.6,371.7 L1304.9,372.1 L1308.2,372.5 L1311.5,373 L1314.8,373.4 L1318.1,373.8 L1321.4,374.2 L1324.7,374.7 L1328,375.1 L1331.3,375.5 L1334.6,376 L1337.9,376.4 L1341.2,376.9 L1344.5,377.3 L1347.8,377.7 L1351.1,378.2 L1354.3,378.6" fill="none" stroke="#c04545" stroke-width="2.2" stroke-dasharray="1.5 1.8" id="rdot"/>
<path d="M151.7,474.1 L154.9,474.4 L158.2,474.7 L161.5,475 L164.8,475.4 L168.1,475.7 L171.4,476 L174.7,476.4 L178,476.7 L181.3,477 L184.6,477.3 L187.9,477.6 L191.2,477.9 L194.5,478.1 L197.8,478.3 L201.1,478.5 L204.4,478.7 L207.7,478.8 L211,479 L214.3,479.1 L217.6,479.2 L220.8,479.3 L224.1,479.3 L227.4,479.3 L230.7,479.3 L234,479.2 L237.3,479 L240.6,478.9 L243.9,478.7 L247.2,478.6 L250.5,478.4 L253.8,478.2 L257.1,478.1 L260.4,478 L263.7,477.9 L267,477.7 L270.3,477.6 L273.6,477.5 L276.9,477.4 L280.2,477.2 L283.5,477 L286.7,476.8 L290,476.6 L293.3,476.3 L296.6,476 L299.9,475.7 L303.2,475.3 L306.5,474.8 L309.8,474.3 L313.1,473.8 L316.4,473.1 L319.7,472.5 L323,471.8 L326.3,471.1 L329.6,470.4 L332.9,469.6 L336.2,468.8 L339.5,468.1 L342.8,467.3 L346.1,466.5 L349.4,465.7 L352.6,464.9 L355.9,464 L359.2,463.1 L362.5,462.3 L365.8,461.3 L369.1,460.4 L372.4,459.5 L375.7,458.6 L379,457.7 L382.3,456.7 L385.6,455.8 L388.9,454.9 L392.2,454.1 L395.5,453.2 L398.8,452.3 L402.1,451.5 L405.4,450.7 L408.7,449.8 L412,449 L415.3,448.2 L418.6,447.3 L421.8,446.5 L425.1,445.7 L428.4,444.9 L431.7,444.1 L435,443.4 L438.3,442.6 L441.6,441.8 L444.9,441.1 L448.2,440.4 L451.5,439.7 L454.8,439 L458.1,438.4 L461.4,437.8 L464.7,437.2 L468,436.6 L471.3,436 L474.6,435.4 L477.9,434.8 L481.2,434.2 L484.5,433.6 L487.7,433 L491,432.4 L494.3,431.7 L497.6,431.1 L500.9,430.4 L504.2,429.7 L507.5,429 L510.8,428.3 L514.1,427.6 L517.4,426.8 L520.7,426.1 L524,425.4 L527.3,424.6 L530.6,423.8 L533.9,423 L537.2,422.2 L540.5,421.3 L543.8,420.4 L547.1,419.5 L550.4,418.5 L553.6,417.4 L556.9,416.3 L560.2,415.2 L563.5,414.1 L566.8,412.9 L570.1,411.8 L573.4,410.6 L576.7,409.5 L580,408.4 L583.3,407.3 L586.6,406.2 L589.9,405.1 L593.2,404 L596.5,403 L599.8,401.9 L603.1,400.8 L606.4,399.7 L609.7,398.6 L613,397.5 L616.3,396.4 L619.5,395.3 L622.8,394.2 L626.1,393 L629.4,391.8 L632.7,390.6 L636,389.4 L639.3,388.1 L642.6,386.7 L645.9,385.2 L649.2,383.7 L652.5,382.4 L655.8,381.2 L659.1,380.1 L662.4,379.1 L665.7,378.1 L669,377.3 L672.3,376.4 L675.6,375.6 L678.9,374.8 L682.2,374.1 L685.5,373.4 L688.7,372.8 L692,372.3 L695.3,371.8 L698.6,371.3 L701.9,370.8 L705.2,370.3 L708.5,369.8 L711.8,369.2 L715.1,368.7 L718.4,368.1 L721.7,367.5 L725,366.9 L728.3,366.4 L731.6,365.9 L734.9,365.3 L738.2,364.9 L741.5,364.5 L744.8,364.1 L748.1,363.7 L751.4,363.3 L754.6,363 L757.9,362.7 L761.2,362.3 L764.5,362 L767.8,361.8 L771.1,361.5 L774.4,361.2 L777.7,361 L781,360.7 L784.3,360.5 L787.6,360.3 L790.9,360 L794.2,359.8 L797.5,359.6 L800.8,359.3 L804.1,359.1 L807.4,358.8 L810.7,358.6 L814,358.3 L817.3,358.1 L820.5,357.8 L823.8,357.6 L827.1,357.4 L830.4,357.2 L833.7,357 L837,356.9 L840.3,356.8 L843.6,356.8 L846.9,356.8 L850.2,356.8 L853.5,356.9 L856.8,356.9 L860.1,357.1 L863.4,357.2 L866.7,357.3 L870,357.4 L873.3,357.6 L876.6,357.7 L879.9,357.8 L883.2,357.9 L886.5,358 L889.7,358.1 L893,358.2 L896.3,358.3 L899.6,358.4 L902.9,358.5 L906.2,358.7 L909.5,358.8 L912.8,359 L916.1,359.2 L919.4,359.4 L922.7,359.7 L926,359.9 L929.3,360.2 L932.6,360.5 L935.9,360.8 L939.2,361.2 L942.5,361.5 L945.8,361.9 L949.1,362.2 L952.4,362.6 L955.6,363 L958.9,363.4 L962.2,363.9 L965.5,364.4 L968.8,364.9 L972.1,365.3 L975.4,365.8 L978.7,366.3 L982,366.8 L985.3,367.2 L988.6,367.7 L991.9,368 L995.2,368.3 L998.5,368.6 L1001.8,368.9 L1005.1,369.3 L1008.4,369.8 L1011.7,370.4 L1015,371.2 L1018.3,372 L1021.5,372.8 L1024.8,373.7 L1028.1,374.6 L1031.4,375.5 L1034.7,376.3 L1038,377.1 L1041.3,377.9 L1044.6,378.7 L1047.9,379.5 L1051.2,380.3 L1054.5,381.1 L1057.8,382 L1061.1,382.8 L1064.4,383.7 L1067.7,384.6 L1071,385.4 L1074.3,386.3 L1077.6,387 L1080.9,387.8 L1084.2,388.5 L1087.4,389.1 L1090.7,389.7 L1094,390.4 L1097.3,391.2 L1100.6,392 L1103.9,392.8 L1107.2,393.7 L1110.5,394.6 L1113.8,395.5 L1117.1,396.5 L1120.4,397.5 L1123.7,398.6 L1127,399.7 L1130.3,400.9 L1133.6,402.1 L1136.9,403.4 L1140.2,404.8 L1143.5,406.2 L1146.8,407.6 L1150.1,409 L1153.4,410.5 L1156.6,412 L1159.9,413.6 L1163.2,415.1 L1166.5,416.8 L1169.8,418.4 L1173.1,420.1 L1176.4,421.8 L1179.7,423.6 L1183,425.3 L1186.3,427.1 L1189.6,428.9 L1192.9,430.7 L1196.2,432.6 L1199.5,434.4 L1202.8,436.2 L1206.1,437.9 L1209.4,439.6 L1212.7,441.3 L1216,442.9 L1219.3,444.5 L1222.5,446 L1225.8,447.5 L1229.1,448.8 L1232.4,450.1 L1235.7,451.4 L1239,452.6 L1242.3,453.7 L1245.6,454.8 L1248.9,455.8 L1252.2,456.8 L1255.5,457.8 L1258.8,458.6 L1262.1,459.4 L1265.4,460.1 L1268.7,460.8 L1272,461.4 L1275.3,462 L1278.6,462.6 L1281.9,463.1 L1285.2,463.7 L1288.4,464.2 L1291.7,464.7 L1295,465.2 L1298.3,465.7 L1301.6,466.2 L1304.9,466.6 L1308.2,467.1 L1311.5,467.5 L1314.8,467.9 L1318.1,468.3 L1321.4,468.7 L1324.7,469.2 L1328,469.6 L1331.3,470 L1334.6,470.5 L1337.9,470.9 L1341.2,471.4 L1344.5,471.9 L1347.8,472.3 L1351.1,472.8 L1354.3,473.2" fill="none" stroke="#4343bf" stroke-width="2" stroke-dasharray="2 5.4"/>
<path d="M151.7,376.1 L154.9,376.5 L158.2,376.8 L161.5,377 L164.8,377.1 L168.1,377.2 L171.4,377.1 L174.7,377 L178,376.9 L181.3,377 L184.6,377.2 L187.9,377.3 L191.2,377.3 L194.5,377.2 L197.8,377.2 L201.1,377 L204.4,376.8 L207.7,376.7 L211,376.6 L214.3,376.5 L217.6,376.2 L220.8,376 L224.1,375.7 L227.4,375.5 L230.7,375.1 L234,374.6 L237.3,374.1 L240.6,373.5 L243.9,373 L247.2,372.7 L250.5,372.4 L253.8,372 L257.1,371.5 L260.4,371.2 L263.7,370.9 L267,370.8 L270.3,370.6 L273.6,370.4 L276.9,370.2 L280.2,370.1 L283.5,369.9 L286.7,369.5 L290,369.1 L293.3,368.7 L296.6,368.6 L299.9,368.3 L303.2,368 L306.5,367.4 L309.8,366.8 L313.1,366.3 L316.4,365.9 L319.7,365.3 L323,364.5 L326.3,363.6 L329.6,362.8 L332.9,362.1 L336.2,361.3 L339.5,360.5 L342.8,359.7 L346.1,358.8 L349.4,358 L352.6,357 L355.9,356 L359.2,354.8 L362.5,353.8 L365.8,352.9 L369.1,352.1 L372.4,351.3 L375.7,350.5 L379,349.5 L382.3,348.6 L385.6,347.8 L388.9,347.2 L392.2,346.4 L395.5,345.6 L398.8,344.7 L402.1,344 L405.4,343.4 L408.7,343 L412,342.8 L415.3,342.5 L418.6,342.1 L421.8,341.6 L425.1,341 L428.4,340.5 L431.7,340.2 L435,340.1 L438.3,340 L441.6,339.9 L444.9,339.7 L448.2,339.6 L451.5,339.5 L454.8,339.6 L458.1,339.7 L461.4,339.8 L464.7,339.9 L468,340.1 L471.3,340.1 L474.6,339.9 L477.9,339.2 L481.2,338.2 L484.5,337 L487.7,336.2 L491,335.4 L494.3,334.8 L497.6,334.2 L500.9,333.6 L504.2,332.9 L507.5,332.1 L510.8,331.2 L514.1,330.4 L517.4,329.8 L520.7,329.2 L524,328.6 L527.3,328.2 L530.6,327.9 L533.9,327.7 L537.2,327.4 L540.5,327.2 L543.8,327 L547.1,326.8 L550.4,326.3 L553.6,325.7 L556.9,324.9 L560.2,324 L563.5,322.9 L566.8,321.6 L570.1,320.4 L573.4,319.4 L576.7,318.4 L580,317.3 L583.3,316.3 L586.6,315.4 L589.9,314.7 L593.2,314.1 L596.5,313.5 L599.8,312.8 L603.1,312.2 L606.4,311.6 L609.7,311 L613,310.4 L616.3,309.7 L619.5,308.7 L622.8,307.6 L626.1,306.4 L629.4,305.3 L632.7,304.2 L636,303.1 L639.3,301.9 L642.6,300.4 L645.9,298.8 L649.2,297.2 L652.5,296 L655.8,294.9 L659.1,293.9 L662.4,292.9 L665.7,291.8 L669,290.7 L672.3,289.8 L675.6,288.7 L678.9,287.6 L682.2,286.5 L685.5,285.5 L688.7,284.5 L692,283.7 L695.3,282.8 L698.6,282.2 L701.9,281.6 L705.2,281.2 L708.5,280.6 L711.8,280 L715.1,279.1 L718.4,278.1 L721.7,277 L725,276.1 L728.3,275.1 L731.6,274.2 L734.9,273.3 L738.2,272.7 L741.5,272.3 L744.8,272.1 L748.1,271.7 L751.4,271.5 L754.6,271.2 L757.9,271 L761.2,270.7 L764.5,270.2 L767.8,269.6 L771.1,269 L774.4,268.5 L777.7,268 L781,267.6 L784.3,267 L787.6,266.4 L790.9,265.6 L794.2,265 L797.5,264.2 L800.8,263.5 L804.1,262.7 L807.4,262.2 L810.7,261.6 L814,260.8 L817.3,260 L820.5,259.1 L823.8,258.2 L827.1,257.3 L830.4,256.6 L833.7,256.2 L837,255.9 L840.3,256.1 L843.6,256.5 L846.9,257.4 L850.2,258.1 L853.5,258.5 L856.8,258.8 L860.1,258.9 L863.4,258.8 L866.7,258.4 L870,258 L873.3,257.7 L876.6,257.5 L879.9,257.5 L883.2,257.5 L886.5,257.5 L889.7,257.3 L893,257.2 L896.3,257.2 L899.6,257.5 L902.9,257.5 L906.2,257.6 L909.5,257.6 L912.8,258 L916.1,258.6 L919.4,259.4 L922.7,260.2 L926,260.9 L929.3,261.4 L932.6,261.7 L935.9,262.1 L939.2,262.4 L942.5,262.7 L945.8,262.6 L949.1,262.5 L952.4,262.3 L955.6,262.4 L958.9,262.6 L962.2,262.9 L965.5,263.4 L968.8,264.1 L972.1,264.9 L975.4,265.8 L978.7,266.9 L982,268 L985.3,268.9 L988.6,269.7 L991.9,270.5 L995.2,271.4 L998.5,272.2 L1001.8,272.8 L1005.1,273.6 L1008.4,274.3 L1011.7,275.1 L1015,276 L1018.3,276.9 L1021.5,277.9 L1024.8,278.8 L1028.1,279.6 L1031.4,280.4 L1034.7,281.3 L1038,282.1 L1041.3,282.9 L1044.6,283.6 L1047.9,284.5 L1051.2,285.5 L1054.5,286.6 L1057.8,288 L1061.1,289.4 L1064.4,290.8 L1067.7,292 L1071,293.2 L1074.3,294.4 L1077.6,295.6 L1080.9,296.5 L1084.2,297.2 L1087.4,298 L1090.7,298.8 L1094,299.7 L1097.3,300.5 L1100.6,301.4 L1103.9,302.5 L1107.2,303.8 L1110.5,305.2 L1113.8,306.6 L1117.1,307.9 L1120.4,309 L1123.7,310 L1127,311.1 L1130.3,312.4 L1133.6,313.7 L1136.9,315.1 L1140.2,316.5 L1143.5,317.9 L1146.8,319.3 L1150.1,320.5 L1153.4,321.6 L1156.6,322.9 L1159.9,324.2 L1163.2,325.6 L1166.5,326.8 L1169.8,328 L1173.1,329.4 L1176.4,331 L1179.7,332.5 L1183,333.9 L1186.3,335.4 L1189.6,337.1 L1192.9,339 L1196.2,340.8 L1199.5,342.5 L1202.8,344.1 L1206.1,345.5 L1209.4,346.9 L1212.7,348.2 L1216,349.5 L1219.3,350.7 L1222.5,351.8 L1225.8,353.1 L1229.1,354.5 L1232.4,355.7 L1235.7,356.8 L1239,357.7 L1242.3,358.5 L1245.6,359.3 L1248.9,360 L1252.2,360.9 L1255.5,361.6 L1258.8,362.2 L1262.1,362.7 L1265.4,363.3 L1268.7,363.8 L1272,364.4 L1275.3,365.1 L1278.6,365.8 L1281.9,366.4 L1285.2,366.8 L1288.4,367.1 L1291.7,367.6 L1295,368.1 L1298.3,368.6 L1301.6,369 L1304.9,369.5 L1308.2,370 L1311.5,370.4 L1314.8,370.8 L1318.1,371.3 L1321.4,371.8 L1324.7,372.4 L1328,372.9 L1331.3,373.4 L1334.6,373.8 L1337.9,374.1 L1341.2,374.5 L1344.5,374.9 L1347.8,375.3 L1351.1,375.7 L1354.3,376" fill="none" stroke="#c04545" stroke-width="3.9" stroke-linejoin="round"/>
<path d="M151.7,453.3 L154.9,453.4 L158.2,453.8 L161.5,454.2 L164.8,454.7 L168.1,455.1 L171.4,455.5 L174.7,456 L178,456.3 L181.3,456.7 L184.6,457 L187.9,457.2 L191.2,457.4 L194.5,457.6 L197.8,457.8 L201.1,457.8 L204.4,457.9 L207.7,458 L211,458.2 L214.3,458.2 L217.6,458.2 L220.8,458.2 L224.1,458.4 L227.4,458.5 L230.7,458.5 L234,458.4 L237.3,458.1 L240.6,457.8 L243.9,457.4 L247.2,457.1 L250.5,456.9 L253.8,456.7 L257.1,456.6 L260.4,456.4 L263.7,456.1 L267,455.9 L270.3,455.6 L273.6,455.5 L276.9,455.2 L280.2,454.9 L283.5,454.6 L286.7,454.4 L290,454.2 L293.3,454 L296.6,453.6 L299.9,453.3 L303.2,453 L306.5,452.7 L309.8,452.5 L313.1,452.3 L316.4,452 L319.7,451.7 L323,451.3 L326.3,451 L329.6,450.8 L332.9,450.6 L336.2,450.3 L339.5,449.7 L342.8,449 L346.1,448.4 L349.4,447.9 L352.6,447.5 L355.9,447.1 L359.2,446.7 L362.5,446 L365.8,445.3 L369.1,444.6 L372.4,444 L375.7,443.5 L379,442.9 L382.3,442.3 L385.6,441.6 L388.9,440.9 L392.2,440.2 L395.5,439.6 L398.8,439.1 L402.1,438.6 L405.4,438.1 L408.7,437.4 L412,436.7 L415.3,435.7 L418.6,434.9 L421.8,434.1 L425.1,433.4 L428.4,432.8 L431.7,432.3 L435,431.7 L438.3,430.9 L441.6,430.1 L444.9,429.3 L448.2,428.6 L451.5,427.9 L454.8,427.3 L458.1,426.9 L461.4,426.5 L464.7,426 L468,425.3 L471.3,424.7 L474.6,424.3 L477.9,423.8 L481.2,423.4 L484.5,422.8 L487.7,422.4 L491,421.9 L494.3,421.5 L497.6,421 L500.9,420.7 L504.2,420.1 L507.5,419.6 L510.8,419.1 L514.1,418.6 L517.4,418.2 L520.7,417.6 L524,417 L527.3,416.3 L530.6,415.7 L533.9,415.1 L537.2,414.6 L540.5,413.9 L543.8,413.2 L547.1,412.4 L550.4,411.8 L553.6,411 L556.9,410.3 L560.2,409.4 L563.5,408.7 L566.8,407.8 L570.1,406.9 L573.4,406.1 L576.7,405.4 L580,404.6 L583.3,403.7 L586.6,402.7 L589.9,401.8 L593.2,400.9 L596.5,400 L599.8,399.1 L603.1,398.3 L606.4,397.5 L609.7,396.7 L613,395.7 L616.3,394.6 L619.5,393.5 L622.8,392.4 L626.1,391.2 L629.4,390 L632.7,388.9 L636,387.8 L639.3,386.8 L642.6,385.7 L645.9,384.7 L649.2,383.7 L652.5,382.7 L655.8,381.6 L659.1,380.6 L662.4,379.5 L665.7,378.4 L669,377.5 L672.3,376.5 L675.6,375.8 L678.9,375 L682.2,374.3 L685.5,373.5 L688.7,372.8 L692,372.2 L695.3,371.7 L698.6,371.3 L701.9,370.8 L705.2,370.4 L708.5,369.8 L711.8,369.3 L715.1,368.7 L718.4,368.1 L721.7,367.4 L725,366.7 L728.3,366.2 L731.6,365.8 L734.9,365.3 L738.2,364.9 L741.5,364.4 L744.8,364 L748.1,363.4 L751.4,363 L754.6,362.6 L757.9,362.3 L761.2,362.1 L764.5,362 L767.8,362 L771.1,361.8 L774.4,361.4 L777.7,360.9 L781,360.6 L784.3,360.6 L787.6,360.5 L790.9,360.3 L794.2,360 L797.5,359.6 L800.8,359.2 L804.1,358.8 L807.4,358.6 L810.7,358.3 L814,358.2 L817.3,358.1 L820.5,358 L823.8,357.7 L827.1,357.4 L830.4,357.1 L833.7,356.9 L837,356.8 L840.3,356.7 L843.6,356.7 L846.9,356.7 L850.2,356.8 L853.5,356.8 L856.8,356.8 L860.1,356.9 L863.4,357.1 L866.7,357.3 L870,357.6 L873.3,357.6 L876.6,357.8 L879.9,357.9 L883.2,358.1 L886.5,358.1 L889.7,358.2 L893,358.2 L896.3,358.3 L899.6,358.4 L902.9,358.6 L906.2,358.8 L909.5,359.1 L912.8,359.3 L916.1,359.5 L919.4,359.7 L922.7,359.9 L926,360.1 L929.3,360.3 L932.6,360.5 L935.9,360.9 L939.2,361.2 L942.5,361.8 L945.8,362.2 L949.1,362.5 L952.4,362.8 L955.6,363.3 L958.9,363.7 L962.2,364.2 L965.5,364.4 L968.8,364.9 L972.1,365.2 L975.4,365.7 L978.7,366.1 L982,366.5 L985.3,366.9 L988.6,367.4 L991.9,367.9 L995.2,368.3 L998.5,368.5 L1001.8,368.9 L1005.1,369.3 L1008.4,369.9 L1011.7,370.4 L1015,371 L1018.3,371.8 L1021.5,372.7 L1024.8,373.6 L1028.1,374.6 L1031.4,375.5 L1034.7,376.5 L1038,377.3 L1041.3,378 L1044.6,378.6 L1047.9,379.3 L1051.2,380.1 L1054.5,381.2 L1057.8,382 L1061.1,382.9 L1064.4,383.5 L1067.7,384.3 L1071,385.1 L1074.3,385.9 L1077.6,386.6 L1080.9,387 L1084.2,387.4 L1087.4,387.9 L1090.7,388.5 L1094,389.1 L1097.3,389.7 L1100.6,390.4 L1103.9,391.1 L1107.2,391.9 L1110.5,392.7 L1113.8,393.5 L1117.1,394.4 L1120.4,395.2 L1123.7,395.9 L1127,396.6 L1130.3,397.5 L1133.6,398.5 L1136.9,399.6 L1140.2,400.5 L1143.5,401.7 L1146.8,402.8 L1150.1,404.1 L1153.4,405.2 L1156.6,406.3 L1159.9,407.3 L1163.2,408.3 L1166.5,409.4 L1169.8,410.5 L1173.1,411.8 L1176.4,413.1 L1179.7,414.4 L1183,415.7 L1186.3,417 L1189.6,418.3 L1192.9,419.8 L1196.2,421.4 L1199.5,422.9 L1202.8,424.3 L1206.1,425.6 L1209.4,427 L1212.7,428.6 L1216,430.3 L1219.3,431.9 L1222.5,433.3 L1225.8,434.4 L1229.1,435.4 L1232.4,436.3 L1235.7,437.1 L1239,437.8 L1242.3,438.4 L1245.6,439 L1248.9,439.6 L1252.2,440.2 L1255.5,440.9 L1258.8,441.7 L1262.1,442.4 L1265.4,443.2 L1268.7,444 L1272,444.7 L1275.3,445.4 L1278.6,446 L1281.9,446.3 L1285.2,446.4 L1288.4,446.5 L1291.7,446.6 L1295,446.6 L1298.3,446.7 L1301.6,446.7 L1304.9,446.9 L1308.2,447.1 L1311.5,447.5 L1314.8,447.8 L1318.1,448.3 L1321.4,448.8 L1324.7,449.3 L1328,449.8 L1331.3,450.2 L1334.6,450.6 L1337.9,451 L1341.2,451.4 L1344.5,451.9 L1347.8,452.5 L1351.1,453.1 L1354.3,453.7" fill="none" stroke="#4343bf" stroke-width="3.9" stroke-linejoin="round"/>
<text transform="translate(55.56 754.61) scale(0.9511 1.0)" font-size="32.4" class="ax">−20<tspan dy="-3">°</tspan><tspan dy="3">C</tspan></text>
<text transform="translate(1363.56 754.61) scale(0.9511 1.0)" font-size="32.4" class="ax">−20<tspan dy="-3">°</tspan><tspan dy="3">C</tspan></text>
<text transform="translate(61.67 699.72) scale(0.8833 1.0)" font-size="32.4" class="ax">−15<tspan dy="-3">°</tspan><tspan dy="3">C</tspan></text>
<text transform="translate(1363.67 699.72) scale(0.8833 1.0)" font-size="32.4" class="ax">−15<tspan dy="-3">°</tspan><tspan dy="3">C</tspan></text>
<text transform="translate(61.67 644.83) scale(0.8833 1.0)" font-size="32.4" class="ax">−10<tspan dy="-3">°</tspan><tspan dy="3">C</tspan></text>
<text transform="translate(1363.67 644.83) scale(0.8833 1.0)" font-size="32.4" class="ax">−10<tspan dy="-3">°</tspan><tspan dy="3">C</tspan></text>
<text transform="translate(73.58 589.94) scale(0.9394 1.0)" font-size="32.4" class="ax">−5<tspan dy="-3">°</tspan><tspan dy="3">C</tspan></text>
<text transform="translate(1363.58 589.94) scale(0.9394 1.0)" font-size="32.4" class="ax">−5<tspan dy="-3">°</tspan><tspan dy="3">C</tspan></text>
<text transform="translate(92.20 535.05) scale(0.9240 1.0)" font-size="32.4" class="ax">0<tspan dy="-3">°</tspan><tspan dy="3">C</tspan></text>
<text transform="translate(1363.90 535.05) scale(0.9240 1.0)" font-size="32.4" class="ax">0<tspan dy="-3">°</tspan><tspan dy="3">C</tspan></text>
<text transform="translate(92.20 480.16) scale(0.9240 1.0)" font-size="32.4" class="ax">5<tspan dy="-3">°</tspan><tspan dy="3">C</tspan></text>
<text transform="translate(1363.90 480.16) scale(0.9240 1.0)" font-size="32.4" class="ax">5<tspan dy="-3">°</tspan><tspan dy="3">C</tspan></text>
<text transform="translate(78.35 425.27) scale(0.8841 1.0)" font-size="32.4" class="ax">10<tspan dy="-3">°</tspan><tspan dy="3">C</tspan></text>
<text transform="translate(1362.95 425.27) scale(0.8841 1.0)" font-size="32.4" class="ax">10<tspan dy="-3">°</tspan><tspan dy="3">C</tspan></text>
<text transform="translate(78.35 370.38) scale(0.8841 1.0)" font-size="32.4" class="ax">15<tspan dy="-3">°</tspan><tspan dy="3">C</tspan></text>
<text transform="translate(1362.95 370.38) scale(0.8841 1.0)" font-size="32.4" class="ax">15<tspan dy="-3">°</tspan><tspan dy="3">C</tspan></text>
<text transform="translate(73.87 315.49) scale(0.9471 1.0)" font-size="32.4" class="ax">20<tspan dy="-3">°</tspan><tspan dy="3">C</tspan></text>
<text transform="translate(1363.57 315.49) scale(0.9471 1.0)" font-size="32.4" class="ax">20<tspan dy="-3">°</tspan><tspan dy="3">C</tspan></text>
<text transform="translate(73.87 260.60) scale(0.9471 1.0)" font-size="32.4" class="ax">25<tspan dy="-3">°</tspan><tspan dy="3">C</tspan></text>
<text transform="translate(1363.57 260.60) scale(0.9471 1.0)" font-size="32.4" class="ax">25<tspan dy="-3">°</tspan><tspan dy="3">C</tspan></text>
<text transform="translate(74.26 205.71) scale(0.9416 1.0)" font-size="32.4" class="ax">30<tspan dy="-3">°</tspan><tspan dy="3">C</tspan></text>
<text transform="translate(1363.96 205.71) scale(0.9416 1.0)" font-size="32.4" class="ax">30<tspan dy="-3">°</tspan><tspan dy="3">C</tspan></text>
<text transform="translate(74.46 150.82) scale(0.9388 1.0)" font-size="32.4" class="ax">35<tspan dy="-3">°</tspan><tspan dy="3">C</tspan></text>
<text transform="translate(1363.96 150.82) scale(0.9388 1.0)" font-size="32.4" class="ax">35<tspan dy="-3">°</tspan><tspan dy="3">C</tspan></text>
<text transform="translate(73.91 95.93) scale(0.9465 1.0)" font-size="32.4" class="ax">40<tspan dy="-3">°</tspan><tspan dy="3">C</tspan></text>
<text transform="translate(1364.41 95.93) scale(0.9465 1.0)" font-size="32.4" class="ax">40<tspan dy="-3">°</tspan><tspan dy="3">C</tspan></text>
<text transform="translate(176.13 802.90) scale(1.0278 1.0)" font-size="30.6" class="mo">Jan</text>
<text transform="translate(270.93 802.90) scale(1.0172 1.0)" font-size="30.6" class="mo">Feb</text>
<text transform="translate(366.37 802.90) scale(1.0820 1.0)" font-size="30.6" class="mo">Mar</text>
<text transform="translate(473.62 802.90) scale(1.0096 1.0)" font-size="30.6" class="mo">Apr</text>
<text transform="translate(566.34 802.90) scale(1.0519 1.0)" font-size="30.6" class="mo">May</text>
<text transform="translate(673.43 802.90) scale(1.0257 1.0)" font-size="30.6" class="mo">Jun</text>
<text transform="translate(779.02 802.90) scale(1.0447 1.0)" font-size="30.6" class="mo">Jul</text>
<text transform="translate(875.02 802.90) scale(0.9942 1.0)" font-size="30.6" class="mo">Aug</text>
<text transform="translate(974.62 802.90) scale(1.0002 1.0)" font-size="30.6" class="mo">Sep</text>
<text transform="translate(1077.47 802.90) scale(1.0523 1.0)" font-size="30.6" class="mo">Oct</text>
<text transform="translate(1175.43 802.90) scale(1.0195 1.0)" font-size="30.6" class="mo">Nov</text>
<text transform="translate(1276.30 802.90) scale(1.0289 1.0)" font-size="30.6" class="mo">Dec</text>
<text transform="translate(227.01 49.20) scale(1.0685 1.0)" font-size="30.6" class="mo">cool</text>
<text transform="translate(833.18 49.20) scale(1.0246 1.0)" font-size="30.6" class="mo">warm</text>
<text transform="translate(1261.11 49.20) scale(1.0704 1.0)" font-size="30.6" class="mo">cool</text>
<text transform="translate(179.42 327.27) scale(1.0411 1.0)" font-size="30.6" class="halo">Jan 24</text>
<text transform="translate(196.09 361.57) scale(0.9207 1.0)" font-size="30.6" class="halo">14<tspan dy="-3">°</tspan><tspan dy="3">C</tspan></text>
<text transform="translate(202.83 491.59) scale(0.9598 1.0)" font-size="30.6" class="halo">6<tspan dy="-3">°</tspan><tspan dy="3">C</tspan></text>
<text transform="translate(321.80 305.40) scale(1.0678 1.0)" font-size="30.6" class="halo">Mar 6</text>
<text transform="translate(331.56 339.70) scale(0.9315 1.0)" font-size="30.6" class="halo">16<tspan dy="-3">°</tspan><tspan dy="3">C</tspan></text>
<text transform="translate(339.55 478.80) scale(0.9455 1.0)" font-size="30.6" class="halo">7<tspan dy="-3">°</tspan><tspan dy="3">C</tspan></text>
<text transform="translate(666.55 232.32) scale(0.9729 1.0)" font-size="30.6" class="halo">Jun 19</text>
<text transform="translate(676.55 266.62) scale(1.0104 1.0)" font-size="30.6" class="halo">22<tspan dy="-3">°</tspan><tspan dy="3">C</tspan></text>
<text transform="translate(678.67 402.82) scale(0.9269 1.0)" font-size="30.6" class="halo">14<tspan dy="-3">°</tspan><tspan dy="3">C</tspan></text>
<text transform="translate(799.32 208.10) scale(1.0553 1.0)" font-size="30.6" class="halo">Jul 29</text>
<text transform="translate(808.07 242.40) scale(0.9983 1.0)" font-size="30.6" class="halo">24<tspan dy="-3">°</tspan><tspan dy="3">C</tspan></text>
<text transform="translate(810.09 390.20) scale(0.9207 1.0)" font-size="30.6" class="halo">15<tspan dy="-3">°</tspan><tspan dy="3">C</tspan></text>
<text transform="translate(980.58 232.20) scale(1.0284 1.0)" font-size="30.6" class="halo">Sep 24</text>
<text transform="translate(996.37 266.50) scale(0.9983 1.0)" font-size="30.6" class="halo">22<tspan dy="-3">°</tspan><tspan dy="3">C</tspan></text>
<text transform="translate(998.47 408.70) scale(0.9284 1.0)" font-size="30.6" class="halo">14<tspan dy="-3">°</tspan><tspan dy="3">C</tspan></text>
<text transform="translate(1174.57 305.23) scale(1.0434 1.0)" font-size="30.6" class="halo">Nov 22</text>
<text transform="translate(1192.86 339.53) scale(0.9315 1.0)" font-size="30.6" class="halo">16<tspan dy="-3">°</tspan><tspan dy="3">C</tspan></text>
<text transform="translate(1200.33 467.53) scale(0.9778 1.0)" font-size="30.6" class="halo">8<tspan dy="-3">°</tspan><tspan dy="3">C</tspan></text>
<text transform="translate(179.42 327.27) scale(1.0411 1.0)" font-size="30.6" class="an">Jan 24</text>
<text transform="translate(196.09 361.57) scale(0.9207 1.0)" font-size="30.6" class="an">14<tspan dy="-3">°</tspan><tspan dy="3">C</tspan></text>
<text transform="translate(202.83 491.59) scale(0.9598 1.0)" font-size="30.6" class="an">6<tspan dy="-3">°</tspan><tspan dy="3">C</tspan></text>
<circle cx="227.6" cy="375.3" r="4.1" fill="#000"/>
<circle cx="227.6" cy="458.2" r="4.1" fill="#000"/>
<text transform="translate(321.80 305.40) scale(1.0678 1.0)" font-size="30.6" class="an">Mar 6</text>
<text transform="translate(331.56 339.70) scale(0.9315 1.0)" font-size="30.6" class="an">16<tspan dy="-3">°</tspan><tspan dy="3">C</tspan></text>
<text transform="translate(339.55 478.80) scale(0.9455 1.0)" font-size="30.6" class="an">7<tspan dy="-3">°</tspan><tspan dy="3">C</tspan></text>
<circle cx="364.1" cy="353.4" r="4.1" fill="#000"/>
<circle cx="364.1" cy="445.4" r="4.1" fill="#000"/>
<text transform="translate(666.55 232.32) scale(0.9729 1.0)" font-size="30.6" class="an">Jun 19</text>
<text transform="translate(676.55 266.62) scale(1.0104 1.0)" font-size="30.6" class="an">22<tspan dy="-3">°</tspan><tspan dy="3">C</tspan></text>
<text transform="translate(678.67 402.82) scale(0.9269 1.0)" font-size="30.6" class="an">14<tspan dy="-3">°</tspan><tspan dy="3">C</tspan></text>
<circle cx="710.8" cy="280.3" r="4.1" fill="#000"/>
<circle cx="710.8" cy="369.4" r="4.1" fill="#000"/>
<text transform="translate(799.32 208.10) scale(1.0553 1.0)" font-size="30.6" class="an">Jul 29</text>
<text transform="translate(808.07 242.40) scale(0.9983 1.0)" font-size="30.6" class="an">24<tspan dy="-3">°</tspan><tspan dy="3">C</tspan></text>
<text transform="translate(810.09 390.20) scale(0.9207 1.0)" font-size="30.6" class="an">15<tspan dy="-3">°</tspan><tspan dy="3">C</tspan></text>
<circle cx="842" cy="256.1" r="4.1" fill="#000"/>
<circle cx="842" cy="356.8" r="4.1" fill="#000"/>
<text transform="translate(980.58 232.20) scale(1.0284 1.0)" font-size="30.6" class="an">Sep 24</text>
<text transform="translate(996.37 266.50) scale(0.9983 1.0)" font-size="30.6" class="an">22<tspan dy="-3">°</tspan><tspan dy="3">C</tspan></text>
<text transform="translate(998.47 408.70) scale(0.9284 1.0)" font-size="30.6" class="an">14<tspan dy="-3">°</tspan><tspan dy="3">C</tspan></text>
<circle cx="1030.8" cy="280.2" r="4.1" fill="#000"/>
<circle cx="1030.8" cy="375.3" r="4.1" fill="#000"/>
<text transform="translate(1174.57 305.23) scale(1.0434 1.0)" font-size="30.6" class="an">Nov 22</text>
<text transform="translate(1192.86 339.53) scale(0.9315 1.0)" font-size="30.6" class="an">16<tspan dy="-3">°</tspan><tspan dy="3">C</tspan></text>
<text transform="translate(1200.33 467.53) scale(0.9778 1.0)" font-size="30.6" class="an">8<tspan dy="-3">°</tspan><tspan dy="3">C</tspan></text>
<circle cx="1225.5" cy="353.2" r="4.1" fill="#000"/>
<circle cx="1225.5" cy="434.1" r="4.1" fill="#000"/>
</svg>
</body></html>
